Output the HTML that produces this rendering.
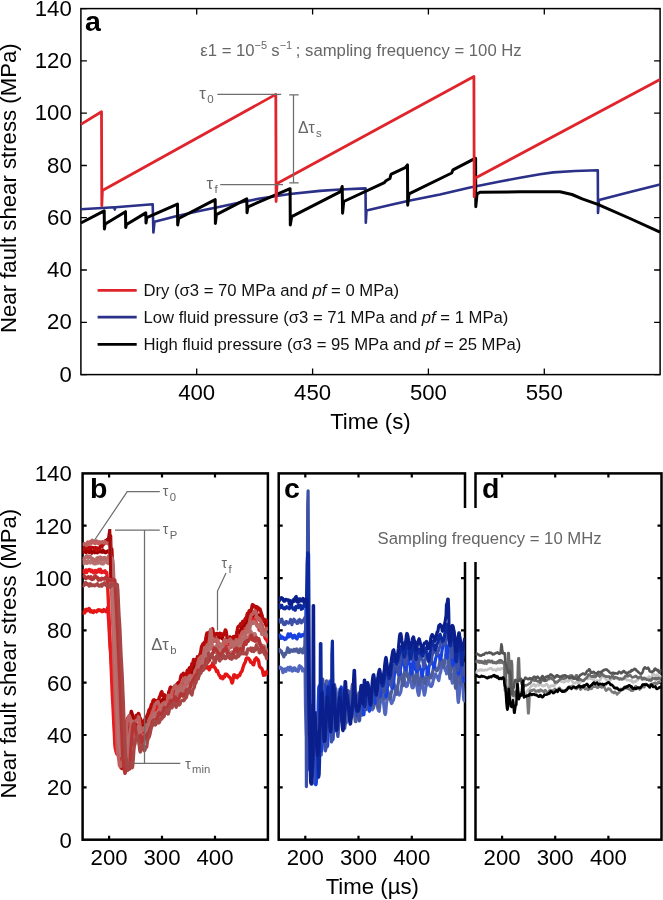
<!DOCTYPE html>
<html><head><meta charset="utf-8"><style>
html,body{margin:0;padding:0;background:#fff;width:663px;height:900px;overflow:hidden}
svg{display:block;will-change:transform}
</style></head><body>
<svg width="663" height="900" viewBox="0 0 663 900">
<rect x="80.9" y="8.6" width="579.2" height="366.0" fill="none" stroke="#000" stroke-width="1.5"/>
<path d="M80.9 374.6h6M660.1 374.6h-6M80.9 322.3h6M660.1 322.3h-6M80.9 270.0h6M660.1 270.0h-6M80.9 217.7h6M660.1 217.7h-6M80.9 165.5h6M660.1 165.5h-6M80.9 113.2h6M660.1 113.2h-6M80.9 60.9h6M660.1 60.9h-6M80.9 8.6h6M660.1 8.6h-6M196.7 374.6v-6M196.7 8.6v6M312.6 374.6v-6M312.6 8.6v6M428.4 374.6v-6M428.4 8.6v6M544.3 374.6v-6M544.3 8.6v6" stroke="#000" stroke-width="1.3" fill="none"/>
<g font-family="Liberation Sans, sans-serif" font-size="22.2" fill="#000"><text x="71.8" y="381.6" text-anchor="end">0</text><text x="71.8" y="329.3" text-anchor="end">20</text><text x="71.8" y="277.0" text-anchor="end">40</text><text x="71.8" y="224.7" text-anchor="end">60</text><text x="71.8" y="172.5" text-anchor="end">80</text><text x="71.8" y="120.2" text-anchor="end">100</text><text x="71.8" y="67.9" text-anchor="end">120</text><text x="71.8" y="15.6" text-anchor="end">140</text><text x="196.7" y="400.3" text-anchor="middle">400</text><text x="312.6" y="400.3" text-anchor="middle">450</text><text x="428.4" y="400.3" text-anchor="middle">500</text><text x="544.3" y="400.3" text-anchor="middle">550</text></g>
<text font-family="Liberation Sans, sans-serif" font-size="22.2" x="370.4" y="429" text-anchor="middle">Time (s)</text>
<text font-family="Liberation Sans, sans-serif" font-size="22.2" transform="translate(16.3,188.2) rotate(-90)" text-anchor="middle">Near fault shear stress (MPa)</text>
<text font-family="Liberation Sans, sans-serif" font-size="28.5" font-weight="bold" x="85" y="30.6">a</text>
<g fill="none" stroke-linejoin="round">
<polyline points="80.9,209.3 114.3,207.2 114.8,209.6 115.3,207.2 152.7,204.3 153.4,232.5 154.5,221.8 175.0,216.5 198.0,211.3 220.0,206.8 240.0,202.5 260.0,198.5 290.0,194.0 320.0,190.9 340.0,189.5 365.5,188.4 365.8,222.7 366.5,210.5 390.0,205.0 410.0,200.5 440.0,194.5 470.0,187.5 500.0,181.5 520.0,177.8 540.0,174.3 553.3,172.4 575.0,171.0 597.8,170.3 598.0,212.9 599.0,200.0 630.0,192.0 660.0,184.4" stroke="#2b3088" stroke-width="2.6"/>
<polyline points="80.9,223.0 104.2,210.8 104.4,228.9 105.2,224.0 125.5,211.7 125.7,227.6 126.5,224.5 145.8,212.9 146.0,223.0 146.8,217.7 177.5,204.1 177.7,225.0 178.7,218.5 215.2,199.6 215.4,223.4 216.4,214.7 246.8,198.9 247.0,212.8 248.0,206.8 290.1,188.7 290.3,224.9 291.7,216.6 340.5,191.6 342.2,186.5 342.6,213.2 343.7,201.5 384.4,182.6 386.0,180.8 389.9,178.5 391.0,174.4 393.0,173.3 405.2,167.6 407.5,164.9 407.7,205.2 409.0,193.9 451.7,173.0 453.0,169.8 475.6,158.2 475.8,206.7 477.0,194.0 480.0,192.2 520.0,191.8 560.0,191.8 572.0,194.5 582.2,198.9 597.8,204.4 630.0,218.5 660.0,232.2" stroke="#000" stroke-width="3"/>
<polyline points="80.9,124.4 101.5,111.7 101.8,205.8 102.4,190.5 275.8,94.4 276.1,201.5 277.1,183.4 473.9,76.5 474.2,196.8 475.0,178.2 660.0,79.6" stroke="#e0242c" stroke-width="2.8"/>
</g>
<g stroke="#6e6e6e" stroke-width="1.25" fill="none"><path d="M217.4 94.4H281.2M220.2 184.5H283M293.5 94.8V182.8M289.2 94.8H298.7M289.2 182.8H298.7"/></g>
<g font-family="Liberation Sans, sans-serif" fill="#666" font-size="16.7">
<text x="199.3" y="98.5">τ<tspan font-size="11.5" dx="1.3" dy="4">0</tspan></text>
<text x="206.5" y="188.5">τ<tspan font-size="11.5" dx="1.3" dy="4">f</tspan></text>
<text x="298" y="133" font-size="15.8">Δτ<tspan font-size="11.3" dx="1.3" dy="4">s</tspan></text>
<text x="200.3" y="56">ε1 = 10<tspan font-size="11" dy="-7">−5</tspan><tspan dy="7" dx="-0.5"> s</tspan><tspan font-size="11" dy="-7">−1</tspan><tspan dy="7" dx="-1"> ; sampling frequency = 100 Hz</tspan></text>
</g>
<g stroke-width="2.8"><path d="M97.6 290.4H136.7" stroke="#e0242c"/><path d="M97.6 317.2H136.7" stroke="#2b3088"/><path d="M97.6 344.3H136.7" stroke="#000"/></g>
<g font-family="Liberation Sans, sans-serif" font-size="16.66" fill="#111">
<text x="143.5" y="296">Dry (σ3 = 70 MPa and <tspan font-style="italic">pf</tspan> = 0 MPa)</text>
<text x="143.5" y="323">Low fluid pressure (σ3 = 71 MPa and <tspan font-style="italic">pf</tspan> = 1 MPa)</text>
<text x="143.5" y="350">High fluid pressure (σ3 = 95 MPa and <tspan font-style="italic">pf</tspan> = 25 MPa)</text>
</g>
<rect x="82.6" y="473.4" width="185.3" height="366.3" fill="none" stroke="#000" stroke-width="2.5"/>
<path d="M82.6 787.4h4M267.9 787.4h-4M82.6 735.0h4M267.9 735.0h-4M82.6 682.7h4M267.9 682.7h-4M82.6 630.4h4M267.9 630.4h-4M82.6 578.1h4M267.9 578.1h-4M82.6 525.7h4M267.9 525.7h-4M109.1 839.7v-4M109.1 473.4v4M162.0 839.7v-4M162.0 473.4v4M215.0 839.7v-4M215.0 473.4v4" stroke="#000" stroke-width="2.2" fill="none"/>
<g font-family="Liberation Sans, sans-serif" font-size="22.2"><text x="109.1" y="865.3" text-anchor="middle">200</text><text x="162.0" y="865.3" text-anchor="middle">300</text><text x="215.0" y="865.3" text-anchor="middle">400</text></g>
<rect x="278.7" y="473.4" width="186.3" height="366.3" fill="none" stroke="#000" stroke-width="2.5"/>
<path d="M278.7 787.4h4M465.0 787.4h-4M278.7 735.0h4M465.0 735.0h-4M278.7 682.7h4M465.0 682.7h-4M278.7 630.4h4M465.0 630.4h-4M278.7 578.1h4M465.0 578.1h-4M278.7 525.7h4M465.0 525.7h-4M305.3 839.7v-4M305.3 473.4v4M358.5 839.7v-4M358.5 473.4v4M411.8 839.7v-4M411.8 473.4v4" stroke="#000" stroke-width="2.2" fill="none"/>
<g font-family="Liberation Sans, sans-serif" font-size="22.2"><text x="305.3" y="865.3" text-anchor="middle">200</text><text x="358.5" y="865.3" text-anchor="middle">300</text><text x="411.8" y="865.3" text-anchor="middle">400</text></g>
<rect x="475.5" y="473.4" width="186.0" height="366.3" fill="none" stroke="#000" stroke-width="2.5"/>
<path d="M475.5 787.4h4M661.5 787.4h-4M475.5 735.0h4M661.5 735.0h-4M475.5 682.7h4M661.5 682.7h-4M475.5 630.4h4M661.5 630.4h-4M475.5 578.1h4M661.5 578.1h-4M475.5 525.7h4M661.5 525.7h-4M502.1 839.7v-4M502.1 473.4v4M555.2 839.7v-4M555.2 473.4v4M608.4 839.7v-4M608.4 473.4v4" stroke="#000" stroke-width="2.2" fill="none"/>
<g font-family="Liberation Sans, sans-serif" font-size="22.2"><text x="502.1" y="865.3" text-anchor="middle">200</text><text x="555.2" y="865.3" text-anchor="middle">300</text><text x="608.4" y="865.3" text-anchor="middle">400</text></g>
<g font-family="Liberation Sans, sans-serif" font-size="22.2"><text x="71.8" y="847.5" text-anchor="end">0</text><text x="71.8" y="795.2" text-anchor="end">20</text><text x="71.8" y="742.8" text-anchor="end">40</text><text x="71.8" y="690.5" text-anchor="end">60</text><text x="71.8" y="638.2" text-anchor="end">80</text><text x="71.8" y="585.9" text-anchor="end">100</text><text x="71.8" y="533.5" text-anchor="end">120</text><text x="71.8" y="481.2" text-anchor="end">140</text></g>
<text font-family="Liberation Sans, sans-serif" font-size="22.2" transform="translate(16.3,653.7) rotate(-90)" text-anchor="middle">Near fault shear stress (MPa)</text>
<text font-family="Liberation Sans, sans-serif" font-size="22.2" x="372.3" y="893.8" text-anchor="middle">Time (µs)</text>
<g font-family="Liberation Sans, sans-serif" font-size="28.5" font-weight="bold"><text x="90" y="498">b</text><text x="284" y="498">c</text><text x="482" y="498">d</text></g>
<clipPath id="clipb"><rect x="82.6" y="473.4" width="185.3" height="366.3"/></clipPath>
<clipPath id="clipc"><rect x="278.7" y="473.4" width="186.3" height="366.3"/></clipPath>
<clipPath id="clipd"><rect x="475.5" y="473.4" width="186.0" height="366.3"/></clipPath>
<g fill="none" stroke-width="3.4" stroke-linejoin="round" clip-path="url(#clipb)">
<polyline points="82.6,610.7 83.0,611.9 83.4,613.0 83.9,612.1 84.3,612.6 84.7,612.9 85.1,611.2 85.6,609.5 86.0,610.6 86.4,610.9 86.8,609.5 87.3,610.1 87.7,610.5 88.1,610.6 88.5,610.2 89.0,608.6 89.4,608.9 89.8,609.6 90.2,610.7 90.6,611.8 91.1,610.9 91.5,610.8 91.9,611.7 92.3,612.1 92.8,611.4 93.2,611.2 93.6,612.4 94.0,611.4 94.5,610.8 94.9,611.2 95.3,611.2 95.7,611.4 96.2,611.5 96.6,611.9 97.0,610.7 97.4,610.2 97.8,610.0 98.3,610.3 98.7,610.5 99.1,609.7 99.5,610.5 100.0,610.3 100.4,610.2 100.8,610.2 101.2,610.4 101.7,611.6 102.1,610.9 102.5,610.6 102.9,611.5 103.4,610.0 103.8,609.5 104.2,610.1 104.6,610.8 105.0,610.5 105.5,610.4 105.9,611.6 106.3,610.2 106.7,609.6 107.2,609.5 107.6,607.8 108.0,609.5 108.4,616.9 108.9,624.2 109.3,632.2 109.7,640.5 110.1,646.4 110.6,651.6 111.0,656.6 111.4,662.2 111.8,667.5 112.2,671.8 112.7,676.4 113.1,683.9 113.5,692.9 113.9,702.8 114.4,711.2 114.8,719.6 115.2,727.1 115.6,734.3 116.1,741.6 116.5,744.6 116.9,746.3 117.3,748.2 117.8,751.9 118.2,754.8 118.6,755.3 119.0,755.2 119.4,753.2 119.9,752.1 120.3,751.5 120.7,750.4 121.1,751.6 121.6,753.0 122.0,754.6 122.4,756.1 122.8,757.6 123.3,752.7 123.7,747.7 124.1,743.9 124.5,739.2 125.0,733.6 125.4,728.0 125.8,725.8 126.2,724.4 126.6,721.2 127.1,719.5 127.5,718.3 127.9,719.0 128.3,720.8 128.8,724.2 129.2,727.9 129.6,730.3 130.0,732.6 130.5,731.8 130.9,730.6 131.3,730.9 131.7,730.9 132.2,731.4 132.6,730.6 133.0,728.9 133.4,727.8 133.8,723.9 134.3,722.4 134.7,722.0 135.1,723.9 135.5,726.6 136.0,725.4 136.4,724.3 136.8,726.5 137.2,727.8 137.7,727.3 138.1,727.1 138.5,726.6 138.9,727.0 139.4,727.9 139.8,729.3 140.2,730.6 140.6,733.3 141.0,736.8 141.5,736.8 141.9,736.1 142.3,734.0 142.7,732.4 143.2,731.8 143.6,731.8 144.0,730.5 144.4,730.5 144.9,732.1 145.3,731.6 145.7,729.4 146.1,727.3 146.6,724.8 147.0,723.1 147.4,721.9 147.8,722.1 148.2,722.7 148.7,722.5 149.1,722.0 149.5,721.0 149.9,719.2 150.4,718.0 150.8,716.1 151.2,714.2 151.6,712.7 152.1,710.4 152.5,711.1 152.9,713.3 153.3,712.2 153.8,709.5 154.2,710.2 154.6,711.8 155.0,710.8 155.4,709.9 155.9,708.4 156.3,707.0 156.7,707.3 157.1,706.4 157.6,703.3 158.0,702.7 158.4,703.7 158.8,703.5 159.3,702.7 159.7,702.8 160.1,703.1 160.5,702.0 161.0,700.7 161.4,701.4 161.8,702.0 162.2,701.0 162.6,700.4 163.1,700.4 163.5,700.3 163.9,699.7 164.3,699.8 164.8,700.8 165.2,701.1 165.6,701.3 166.0,700.9 166.5,699.7 166.9,698.5 167.3,696.8 167.7,696.8 168.2,696.6 168.6,696.1 169.0,696.3 169.4,696.2 169.8,696.7 170.3,697.8 170.7,697.3 171.1,695.5 171.5,693.3 172.0,691.0 172.4,689.6 172.8,689.5 173.2,691.0 173.7,693.3 174.1,695.0 174.5,696.1 174.9,694.1 175.4,691.9 175.8,691.4 176.2,689.9 176.6,687.7 177.1,687.7 177.5,689.9 177.9,689.9 178.3,688.6 178.7,687.7 179.2,686.1 179.6,687.4 180.0,689.1 180.4,686.5 180.9,684.2 181.3,685.4 181.7,686.0 182.1,685.3 182.6,684.9 183.0,684.4 183.4,684.0 183.8,684.0 184.3,684.3 184.7,685.0 185.1,683.8 185.5,681.4 185.9,681.8 186.4,682.4 186.8,682.3 187.2,682.1 187.6,681.3 188.1,679.9 188.5,675.8 188.9,673.6 189.3,674.7 189.8,677.4 190.2,676.3 190.6,675.1 191.0,673.5 191.5,672.8 191.9,672.6 192.3,672.8 192.7,673.3 193.1,672.5 193.6,671.7 194.0,671.5 194.4,671.5 194.8,672.7 195.3,672.9 195.7,671.0 196.1,670.1 196.5,668.9 197.0,667.3 197.4,665.6 197.8,664.4 198.2,664.1 198.7,665.8 199.1,668.3 199.5,669.6 199.9,670.3 200.3,668.0 200.8,666.5 201.2,667.8 201.6,667.7 202.0,665.0 202.5,664.0 202.9,663.2 203.3,662.4 203.7,661.8 204.2,661.4 204.6,661.8 205.0,663.7 205.4,666.4 205.9,665.7 206.3,665.3 206.7,667.0 207.1,668.0 207.5,667.1 208.0,666.9 208.4,667.0 208.8,667.8 209.2,669.9 209.7,669.0 210.1,667.0 210.5,666.2 210.9,666.4 211.4,666.6 211.8,666.6 212.2,664.6 212.6,663.1 213.1,664.0 213.5,665.1 213.9,666.3 214.3,667.2 214.7,667.4 215.2,667.9 215.6,668.8 216.0,669.7 216.4,671.5 216.9,671.2 217.3,670.4 217.7,671.3 218.1,672.5 218.6,674.0 219.0,675.1 219.4,675.4 219.8,675.6 220.3,677.3 220.7,677.9 221.1,677.1 221.5,677.1 221.9,677.0 222.4,677.5 222.8,678.7 223.2,678.1 223.6,676.5 224.1,676.7 224.5,676.9 224.9,675.3 225.3,674.2 225.8,674.5 226.2,675.1 226.6,674.3 227.0,674.5 227.5,675.2 227.9,675.6 228.3,676.2 228.7,676.5 229.1,676.9 229.6,677.2 230.0,677.8 230.4,678.2 230.8,678.8 231.3,680.6 231.7,682.1 232.1,682.9 232.5,682.4 233.0,680.2 233.4,677.8 233.8,674.9 234.2,674.8 234.7,677.3 235.1,677.1 235.5,675.5 235.9,675.8 236.3,676.7 236.8,677.0 237.2,677.7 237.6,676.6 238.0,675.5 238.5,675.3 238.9,675.0 239.3,675.8 239.7,675.6 240.2,673.9 240.6,672.8 241.0,672.2 241.4,671.7 241.9,671.3 242.3,670.1 242.7,668.5 243.1,667.2 243.5,665.9 244.0,664.8 244.4,663.6 244.8,663.0 245.2,662.3 245.7,660.4 246.1,659.2 246.5,658.2 246.9,658.0 247.4,658.2 247.8,658.0 248.2,658.6 248.6,658.5 249.1,659.3 249.5,659.6 249.9,660.1 250.3,661.4 250.7,662.4 251.2,662.4 251.6,662.4 252.0,662.7 252.4,662.9 252.9,664.4 253.3,664.7 253.7,664.8 254.1,663.1 254.6,660.3 255.0,659.3 255.4,659.1 255.8,658.4 256.3,657.9 256.7,658.9 257.1,659.9 257.5,659.2 257.9,659.4 258.4,660.4 258.8,661.8 259.2,664.9 259.6,666.4 260.1,667.2 260.5,667.7 260.9,667.6 261.3,668.1 261.8,668.5 262.2,669.6 262.6,670.7 263.0,673.4 263.5,675.3 263.9,673.4 264.3,672.4 264.7,674.5 265.1,674.9 265.6,672.5 266.0,672.3 266.4,673.9 266.8,673.0 267.3,671.0 267.7,670.4" stroke="#e51515"/>
<polyline points="82.6,570.9 83.0,571.9 83.4,571.0 83.9,570.6 84.3,571.9 84.7,572.5 85.1,571.6 85.6,570.9 86.0,569.9 86.4,571.0 86.8,572.5 87.3,571.0 87.7,570.6 88.1,570.1 88.5,570.4 89.0,570.4 89.4,569.5 89.8,569.9 90.2,570.2 90.6,571.1 91.1,571.7 91.5,570.7 91.9,570.3 92.3,570.9 92.8,571.1 93.2,571.6 93.6,572.8 94.0,572.5 94.5,572.1 94.9,571.9 95.3,570.6 95.7,571.2 96.2,572.5 96.6,572.5 97.0,571.1 97.4,570.5 97.8,570.9 98.3,570.6 98.7,569.6 99.1,570.5 99.5,571.8 100.0,570.3 100.4,569.3 100.8,570.5 101.2,572.0 101.7,572.6 102.1,572.6 102.5,571.7 102.9,571.5 103.4,571.6 103.8,572.1 104.2,572.2 104.6,571.1 105.0,570.8 105.5,572.2 105.9,573.1 106.3,572.8 106.7,572.5 107.2,577.2 107.6,584.9 108.0,593.5 108.4,602.1 108.9,612.3 109.3,622.8 109.7,632.5 110.1,642.2 110.6,652.7 111.0,663.1 111.4,672.6 111.8,682.2 112.2,692.5 112.7,701.7 113.1,709.0 113.5,717.5 113.9,726.1 114.4,734.7 114.8,744.2 115.2,747.7 115.6,749.7 116.1,751.6 116.5,753.2 116.9,754.1 117.3,752.7 117.8,751.8 118.2,751.2 118.6,752.0 119.0,751.8 119.4,749.6 119.9,749.8 120.3,752.5 120.7,753.8 121.1,754.3 121.6,756.6 122.0,756.0 122.4,751.0 122.8,745.9 123.3,740.1 123.7,734.3 124.1,728.8 124.5,724.9 125.0,724.7 125.4,724.3 125.8,723.5 126.2,722.5 126.6,722.6 127.1,723.7 127.5,724.4 127.9,726.0 128.3,728.4 128.8,728.8 129.2,728.8 129.6,728.7 130.0,728.6 130.5,728.4 130.9,728.8 131.3,729.7 131.7,730.3 132.2,729.6 132.6,730.8 133.0,731.9 133.4,730.7 133.8,729.0 134.3,727.4 134.7,726.2 135.1,726.9 135.5,727.9 136.0,727.7 136.4,727.5 136.8,726.9 137.2,726.6 137.7,728.0 138.1,728.2 138.5,726.8 138.9,727.1 139.4,729.0 139.8,731.2 140.2,733.4 140.6,735.8 141.0,738.0 141.5,738.2 141.9,738.1 142.3,737.9 142.7,737.8 143.2,736.4 143.6,735.2 144.0,733.1 144.4,731.8 144.9,730.9 145.3,730.1 145.7,728.9 146.1,727.9 146.6,727.2 147.0,726.4 147.4,726.3 147.8,725.4 148.2,724.7 148.7,724.9 149.1,724.6 149.5,722.2 149.9,720.3 150.4,720.2 150.8,719.3 151.2,716.6 151.6,715.3 152.1,714.5 152.5,712.9 152.9,711.6 153.3,710.0 153.8,708.9 154.2,708.1 154.6,707.5 155.0,708.9 155.4,710.0 155.9,710.8 156.3,711.5 156.7,709.9 157.1,709.9 157.6,711.9 158.0,711.6 158.4,709.1 158.8,708.5 159.3,708.8 159.7,708.3 160.1,708.2 160.5,707.5 161.0,706.9 161.4,709.1 161.8,710.6 162.2,708.2 162.6,706.1 163.1,706.4 163.5,705.3 163.9,702.6 164.3,701.4 164.8,700.1 165.2,699.3 165.6,698.8 166.0,698.9 166.5,699.8 166.9,699.2 167.3,698.7 167.7,700.8 168.2,702.2 168.6,702.4 169.0,702.1 169.4,701.2 169.8,700.5 170.3,700.6 170.7,699.8 171.1,697.0 171.5,695.5 172.0,694.6 172.4,693.3 172.8,692.7 173.2,692.5 173.7,692.5 174.1,694.2 174.5,695.2 174.9,695.6 175.4,694.6 175.8,691.1 176.2,688.9 176.6,689.0 177.1,688.2 177.5,686.3 177.9,686.0 178.3,686.2 178.7,686.3 179.2,686.3 179.6,685.5 180.0,684.5 180.4,685.3 180.9,686.0 181.3,685.2 181.7,685.1 182.1,685.9 182.6,686.3 183.0,686.4 183.4,686.0 183.8,685.2 184.3,683.9 184.7,682.3 185.1,680.3 185.5,678.2 185.9,677.7 186.4,677.4 186.8,678.1 187.2,678.6 187.6,677.8 188.1,677.5 188.5,679.6 188.9,679.9 189.3,678.5 189.8,677.4 190.2,676.1 190.6,675.7 191.0,675.2 191.5,676.2 191.9,677.8 192.3,674.6 192.7,670.5 193.1,668.7 193.6,667.3 194.0,668.9 194.4,669.5 194.8,667.9 195.3,666.7 195.7,664.6 196.1,664.2 196.5,666.0 197.0,666.8 197.4,667.7 197.8,667.2 198.2,665.7 198.7,665.5 199.1,665.7 199.5,665.2 199.9,664.6 200.3,665.3 200.8,665.0 201.2,662.9 201.6,661.6 202.0,661.5 202.5,660.4 202.9,657.1 203.3,655.6 203.7,654.5 204.2,653.2 204.6,652.0 205.0,652.1 205.4,652.2 205.9,650.2 206.3,648.2 206.7,644.9 207.1,642.5 207.5,642.2 208.0,641.3 208.4,639.1 208.8,638.2 209.2,638.6 209.7,639.5 210.1,641.6 210.5,641.7 210.9,641.4 211.4,640.4 211.8,639.2 212.2,640.5 212.6,641.5 213.1,641.2 213.5,640.7 213.9,639.7 214.3,639.3 214.7,640.8 215.2,641.1 215.6,641.0 216.0,640.7 216.4,639.8 216.9,640.8 217.3,642.7 217.7,643.1 218.1,643.5 218.6,644.4 219.0,645.2 219.4,646.4 219.8,647.2 220.3,647.5 220.7,647.2 221.1,645.2 221.5,644.8 221.9,645.2 222.4,645.9 222.8,646.8 223.2,647.1 223.6,647.1 224.1,645.6 224.5,643.8 224.9,644.1 225.3,644.5 225.8,645.3 226.2,646.2 226.6,646.0 227.0,646.3 227.5,646.7 227.9,646.4 228.3,645.9 228.7,645.8 229.1,646.1 229.6,645.6 230.0,645.1 230.4,646.0 230.8,647.4 231.3,646.3 231.7,645.4 232.1,644.9 232.5,644.2 233.0,644.0 233.4,643.0 233.8,641.9 234.2,641.5 234.7,641.6 235.1,642.8 235.5,645.0 235.9,645.6 236.3,645.3 236.8,643.1 237.2,640.2 237.6,639.2 238.0,638.4 238.5,637.2 238.9,636.8 239.3,636.1 239.7,636.1 240.2,637.5 240.6,636.4 241.0,632.2 241.4,630.3 241.9,629.0 242.3,628.7 242.7,629.4 243.1,629.3 243.5,629.2 244.0,630.1 244.4,630.8 244.8,630.4 245.2,630.6 245.7,632.2 246.1,633.0 246.5,632.3 246.9,631.6 247.4,630.5 247.8,628.1 248.2,625.3 248.6,623.1 249.1,621.6 249.5,620.8 249.9,620.2 250.3,621.8 250.7,622.9 251.2,622.1 251.6,621.3 252.0,619.3 252.4,618.6 252.9,617.9 253.3,618.2 253.7,619.5 254.1,619.7 254.6,619.9 255.0,619.7 255.4,619.3 255.8,621.0 256.3,623.4 256.7,624.6 257.1,625.5 257.5,624.7 257.9,625.0 258.4,626.1 258.8,627.5 259.2,629.9 259.6,630.3 260.1,629.0 260.5,629.2 260.9,629.8 261.3,629.8 261.8,629.7 262.2,630.9 262.6,632.3 263.0,633.2 263.5,634.1 263.9,634.3 264.3,635.2 264.7,636.6 265.1,638.0 265.6,638.9 266.0,639.3 266.4,638.9 266.8,639.9 267.3,641.6 267.7,641.2" stroke="#e81a1e"/>
<polyline points="82.6,549.7 83.0,550.9 83.4,552.4 83.9,551.6 84.3,549.7 84.7,550.7 85.1,551.3 85.6,551.4 86.0,552.4 86.4,551.7 86.8,550.2 87.3,549.4 87.7,550.6 88.1,551.2 88.5,552.1 89.0,552.5 89.4,551.4 89.8,550.2 90.2,549.1 90.6,550.7 91.1,551.3 91.5,551.6 91.9,553.2 92.3,552.5 92.8,551.7 93.2,551.7 93.6,551.5 94.0,551.5 94.5,552.0 94.9,552.6 95.3,551.3 95.7,550.8 96.2,550.5 96.6,549.7 97.0,551.5 97.4,552.8 97.8,551.9 98.3,550.7 98.7,550.5 99.1,551.3 99.5,551.7 100.0,550.9 100.4,550.9 100.8,551.7 101.2,551.5 101.7,551.9 102.1,552.2 102.5,550.5 102.9,550.0 103.4,550.7 103.8,551.5 104.2,552.1 104.6,551.8 105.0,552.6 105.5,552.7 105.9,551.8 106.3,552.4 106.7,552.1 107.2,551.3 107.6,551.0 108.0,551.0 108.4,551.2 108.9,551.0 109.3,552.2 109.7,553.1 110.1,552.0 110.6,549.9 111.0,549.7 111.4,550.3 111.8,549.2 112.2,557.8 112.7,565.9 113.1,573.8 113.5,584.1 113.9,597.0 114.4,610.6 114.8,625.0 115.2,638.1 115.6,650.7 116.1,663.6 116.5,676.5 116.9,686.7 117.3,696.9 117.8,707.6 118.2,717.7 118.6,727.2 119.0,736.8 119.4,746.8 119.9,752.9 120.3,754.8 120.7,757.0 121.1,759.0 121.6,761.6 122.0,763.0 122.4,761.7 122.8,760.6 123.3,759.8 123.7,758.9 124.1,758.5 124.5,757.7 125.0,757.0 125.4,757.3 125.8,759.8 126.2,761.5 126.6,759.6 127.1,753.0 127.5,747.6 127.9,740.3 128.3,732.7 128.8,724.8 129.2,716.9 129.6,717.8 130.0,718.1 130.5,715.8 130.9,713.7 131.3,711.4 131.7,712.6 132.2,714.1 132.6,716.3 133.0,719.6 133.4,722.9 133.8,726.6 134.3,727.0 134.7,725.9 135.1,723.7 135.5,721.1 136.0,720.1 136.4,719.2 136.8,718.2 137.2,718.0 137.7,715.3 138.1,714.2 138.5,714.7 138.9,715.8 139.4,719.1 139.8,721.1 140.2,722.4 140.6,724.4 141.0,726.3 141.5,727.1 141.9,727.9 142.3,729.2 142.7,730.0 143.2,728.3 143.6,726.6 144.0,725.3 144.4,724.2 144.9,724.5 145.3,724.2 145.7,724.0 146.1,723.6 146.6,722.6 147.0,722.3 147.4,721.9 147.8,720.3 148.2,718.3 148.7,717.5 149.1,716.7 149.5,714.8 149.9,714.0 150.4,715.0 150.8,715.5 151.2,716.0 151.6,714.9 152.1,711.5 152.5,709.3 152.9,707.1 153.3,705.8 153.8,705.0 154.2,704.3 154.6,704.1 155.0,702.9 155.4,701.8 155.9,701.1 156.3,700.8 156.7,703.2 157.1,703.9 157.6,702.5 158.0,702.5 158.4,703.7 158.8,703.4 159.3,702.2 159.7,702.3 160.1,702.7 160.5,702.5 161.0,702.2 161.4,701.8 161.8,701.2 162.2,700.4 162.6,699.4 163.1,700.1 163.5,699.8 163.9,699.6 164.3,698.5 164.8,695.5 165.2,695.6 165.6,696.5 166.0,696.9 166.5,697.1 166.9,697.4 167.3,697.8 167.7,697.3 168.2,696.6 168.6,693.6 169.0,691.4 169.4,691.5 169.8,690.7 170.3,688.7 170.7,687.7 171.1,687.8 171.5,688.2 172.0,688.6 172.4,688.8 172.8,688.3 173.2,688.5 173.7,688.8 174.1,687.8 174.5,687.0 174.9,686.1 175.4,685.8 175.8,685.1 176.2,685.0 176.6,684.9 177.1,684.5 177.5,683.8 177.9,683.0 178.3,682.6 178.7,682.3 179.2,682.6 179.6,683.3 180.0,684.3 180.4,683.5 180.9,682.9 181.3,683.2 181.7,683.0 182.1,682.9 182.6,682.2 183.0,680.9 183.4,680.0 183.8,678.6 184.3,677.6 184.7,676.6 185.1,676.8 185.5,678.0 185.9,677.3 186.4,676.9 186.8,676.3 187.2,675.4 187.6,674.4 188.1,673.0 188.5,672.6 188.9,671.2 189.3,668.1 189.8,667.5 190.2,669.2 190.6,669.6 191.0,669.2 191.5,670.4 191.9,672.1 192.3,671.5 192.7,670.8 193.1,671.2 193.6,671.2 194.0,668.5 194.4,666.5 194.8,666.1 195.3,665.2 195.7,663.0 196.1,662.5 196.5,663.5 197.0,664.1 197.4,665.0 197.8,664.9 198.2,664.3 198.7,663.0 199.1,661.2 199.5,659.4 199.9,657.7 200.3,656.4 200.8,655.0 201.2,651.9 201.6,649.9 202.0,649.3 202.5,648.0 202.9,647.1 203.3,646.8 203.7,646.3 204.2,646.7 204.6,646.9 205.0,644.6 205.4,641.7 205.9,639.5 206.3,637.9 206.7,637.1 207.1,636.6 207.5,635.7 208.0,635.6 208.4,637.2 208.8,637.3 209.2,637.0 209.7,638.1 210.1,639.9 210.5,639.7 210.9,638.2 211.4,638.6 211.8,638.8 212.2,636.7 212.6,635.2 213.1,636.8 213.5,637.9 213.9,637.8 214.3,638.1 214.7,638.8 215.2,638.8 215.6,638.2 216.0,638.7 216.4,639.3 216.9,639.4 217.3,639.0 217.7,638.9 218.1,638.8 218.6,637.0 219.0,635.7 219.4,633.7 219.8,633.5 220.3,635.7 220.7,637.2 221.1,636.7 221.5,637.2 221.9,638.5 222.4,638.6 222.8,638.3 223.2,638.9 223.6,639.8 224.1,639.9 224.5,639.8 224.9,640.7 225.3,641.3 225.8,640.6 226.2,639.8 226.6,640.5 227.0,640.2 227.5,639.8 227.9,639.6 228.3,639.9 228.7,640.0 229.1,639.8 229.6,638.9 230.0,636.9 230.4,637.3 230.8,638.0 231.3,639.6 231.7,641.0 232.1,641.1 232.5,640.8 233.0,639.3 233.4,638.0 233.8,637.1 234.2,636.7 234.7,636.8 235.1,636.7 235.5,637.1 235.9,636.4 236.3,635.3 236.8,633.7 237.2,632.0 237.6,632.0 238.0,631.9 238.5,631.2 238.9,631.0 239.3,632.5 239.7,633.0 240.2,631.4 240.6,630.7 241.0,630.5 241.4,628.6 241.9,626.3 242.3,623.8 242.7,621.5 243.1,623.1 243.5,625.5 244.0,626.0 244.4,626.1 244.8,626.0 245.2,625.5 245.7,623.1 246.1,621.9 246.5,621.9 246.9,621.4 247.4,621.0 247.8,620.2 248.2,618.8 248.6,618.7 249.1,619.1 249.5,616.9 249.9,614.0 250.3,612.5 250.7,611.4 251.2,612.1 251.6,613.3 252.0,614.4 252.4,615.8 252.9,615.8 253.3,615.6 253.7,615.2 254.1,613.8 254.6,611.7 255.0,611.3 255.4,611.6 255.8,611.7 256.3,612.1 256.7,613.1 257.1,613.9 257.5,615.4 257.9,616.5 258.4,615.9 258.8,616.0 259.2,615.8 259.6,615.8 260.1,616.2 260.5,615.2 260.9,614.0 261.3,614.1 261.8,615.6 262.2,616.8 262.6,618.6 263.0,619.4 263.5,620.1 263.9,620.6 264.3,621.1 264.7,621.6 265.1,622.4 265.6,624.0 266.0,625.0 266.4,625.6 266.8,626.9 267.3,629.0 267.7,629.9" stroke="#a00000"/>
<polyline points="82.6,548.7 83.0,548.4 83.4,549.2 83.9,548.8 84.3,547.7 84.7,547.0 85.1,547.4 85.6,548.3 86.0,547.5 86.4,547.3 86.8,547.0 87.3,547.1 87.7,547.7 88.1,548.3 88.5,548.7 89.0,548.3 89.4,547.2 89.8,547.1 90.2,548.6 90.6,548.5 91.1,547.7 91.5,547.2 91.9,547.5 92.3,547.7 92.8,547.8 93.2,547.8 93.6,547.7 94.0,548.8 94.5,547.9 94.9,547.7 95.3,548.1 95.7,547.6 96.2,549.1 96.6,550.3 97.0,548.8 97.4,548.1 97.8,548.5 98.3,549.1 98.7,549.5 99.1,549.1 99.5,548.3 100.0,547.5 100.4,545.8 100.8,545.5 101.2,546.5 101.7,546.7 102.1,546.7 102.5,544.5 102.9,544.1 103.4,544.6 103.8,543.4 104.2,542.8 104.6,543.6 105.0,542.2 105.5,540.8 105.9,541.4 106.3,541.1 106.7,540.4 107.2,539.6 107.6,540.1 108.0,540.5 108.4,540.3 108.9,539.9 109.3,538.4 109.7,537.6 110.1,537.0 110.6,536.1 111.0,551.7 111.4,560.2 111.8,567.8 112.2,574.0 112.7,582.5 113.1,594.1 113.5,607.3 113.9,622.3 114.4,635.8 114.8,648.6 115.2,661.5 115.6,674.1 116.1,685.7 116.5,697.3 116.9,707.7 117.3,718.0 117.8,728.8 118.2,738.5 118.6,747.0 119.0,753.1 119.4,755.5 119.9,758.3 120.3,762.1 120.7,765.8 121.1,767.8 121.6,768.3 122.0,768.5 122.4,768.3 122.8,768.2 123.3,768.0 123.7,767.9 124.1,769.2 124.5,770.0 125.0,770.8 125.4,771.3 125.8,770.0 126.2,762.3 126.6,756.0 127.1,749.4 127.5,743.0 127.9,735.9 128.3,728.3 128.8,725.6 129.2,723.4 129.6,720.5 130.0,718.2 130.5,718.3 130.9,721.0 131.3,723.1 131.7,725.4 132.2,726.9 132.6,728.6 133.0,730.5 133.4,730.2 133.8,728.8 134.3,726.2 134.7,723.1 135.1,720.5 135.5,717.7 136.0,715.4 136.4,715.4 136.8,715.4 137.2,715.6 137.7,715.4 138.1,715.2 138.5,713.4 138.9,714.0 139.4,716.7 139.8,717.9 140.2,718.0 140.6,719.2 141.0,720.2 141.5,721.6 141.9,723.0 142.3,723.0 142.7,723.0 143.2,723.3 143.6,723.1 144.0,721.4 144.4,720.2 144.9,719.5 145.3,718.5 145.7,717.0 146.1,717.0 146.6,716.9 147.0,716.3 147.4,714.9 147.8,714.1 148.2,713.2 148.7,711.3 149.1,709.7 149.5,709.6 149.9,709.0 150.4,708.3 150.8,707.2 151.2,705.0 151.6,704.2 152.1,704.8 152.5,703.4 152.9,701.0 153.3,700.2 153.8,700.0 154.2,699.8 154.6,700.1 155.0,702.5 155.4,704.4 155.9,704.2 156.3,703.9 156.7,701.7 157.1,701.1 157.6,703.2 158.0,702.9 158.4,700.9 158.8,699.3 159.3,697.5 159.7,696.5 160.1,696.0 160.5,694.6 161.0,693.0 161.4,692.2 161.8,691.6 162.2,692.9 162.6,694.3 163.1,695.8 163.5,696.6 163.9,694.9 164.3,694.7 164.8,696.1 165.2,696.6 165.6,697.2 166.0,697.4 166.5,697.5 166.9,697.8 167.3,698.1 167.7,696.8 168.2,695.6 168.6,695.9 169.0,694.9 169.4,692.3 169.8,689.9 170.3,687.4 170.7,687.1 171.1,688.9 171.5,689.4 172.0,688.9 172.4,690.5 172.8,692.6 173.2,690.6 173.7,688.2 174.1,687.4 174.5,686.8 174.9,686.0 175.4,685.9 175.8,688.5 176.2,689.3 176.6,687.7 177.1,687.0 177.5,686.4 177.9,685.7 178.3,684.8 178.7,684.1 179.2,683.6 179.6,682.7 180.0,681.7 180.4,678.7 180.9,676.1 181.3,675.2 181.7,674.6 182.1,674.7 182.6,674.6 183.0,673.5 183.4,673.3 183.8,674.6 184.3,675.7 184.7,677.4 185.1,676.6 185.5,674.5 185.9,674.7 186.4,675.0 186.8,672.5 187.2,670.5 187.6,670.2 188.1,670.3 188.5,671.5 188.9,671.9 189.3,671.7 189.8,671.2 190.2,670.7 190.6,669.7 191.0,668.4 191.5,666.4 191.9,663.6 192.3,664.0 192.7,664.5 193.1,661.7 193.6,659.5 194.0,660.8 194.4,661.5 194.8,660.7 195.3,660.2 195.7,659.6 196.1,659.4 196.5,659.5 197.0,658.7 197.4,656.8 197.8,657.4 198.2,658.9 198.7,657.8 199.1,656.2 199.5,655.4 199.9,654.5 200.3,653.4 200.8,651.9 201.2,648.6 201.6,646.5 202.0,645.9 202.5,644.8 202.9,643.9 203.3,643.6 203.7,643.1 204.2,643.7 204.6,644.4 205.0,643.0 205.4,641.4 205.9,638.2 206.3,635.6 206.7,633.8 207.1,632.9 207.5,635.5 208.0,636.1 208.4,634.5 208.8,633.5 209.2,632.2 209.7,632.8 210.1,634.0 210.5,634.1 210.9,633.6 211.4,633.5 211.8,633.0 212.2,630.5 212.6,628.8 213.1,631.4 213.5,633.6 213.9,633.6 214.3,634.2 214.7,633.9 215.2,634.0 215.6,635.1 216.0,634.7 216.4,634.0 216.9,633.5 217.3,633.4 217.7,634.0 218.1,634.8 218.6,634.5 219.0,634.1 219.4,633.6 219.8,633.3 220.3,635.1 220.7,635.6 221.1,635.1 221.5,634.8 221.9,633.8 222.4,634.3 222.8,635.1 223.2,635.4 223.6,635.2 224.1,634.5 224.5,633.4 224.9,631.4 225.3,630.0 225.8,630.3 226.2,631.8 226.6,634.5 227.0,637.1 227.5,639.9 227.9,641.2 228.3,642.5 228.7,642.5 229.1,640.9 229.6,641.3 230.0,641.7 230.4,641.2 230.8,640.2 231.3,640.4 231.7,640.6 232.1,638.9 232.5,638.0 233.0,637.2 233.4,636.6 233.8,638.0 234.2,637.8 234.7,637.7 235.1,637.3 235.5,636.6 235.9,636.2 236.3,635.5 236.8,633.3 237.2,630.6 237.6,628.5 238.0,626.9 238.5,626.3 238.9,626.0 239.3,626.2 239.7,626.0 240.2,624.7 240.6,623.8 241.0,623.4 241.4,623.6 241.9,624.9 242.3,624.0 242.7,622.1 243.1,621.7 243.5,621.2 244.0,621.3 244.4,621.4 244.8,619.9 245.2,618.8 245.7,619.0 246.1,618.4 246.5,616.7 246.9,615.5 247.4,613.5 247.8,613.4 248.2,614.8 248.6,613.2 249.1,610.8 249.5,610.5 249.9,610.5 250.3,610.6 250.7,610.5 251.2,610.1 251.6,609.0 252.0,606.2 252.4,604.8 252.9,604.8 253.3,605.0 253.7,606.2 254.1,606.9 254.6,606.9 255.0,607.1 255.4,606.4 255.8,607.5 256.3,609.2 256.7,607.8 257.1,606.8 257.5,609.0 257.9,609.9 258.4,608.5 258.8,608.0 259.2,608.6 259.6,609.3 260.1,609.2 260.5,610.5 260.9,611.9 261.3,613.4 261.8,614.8 262.2,616.8 262.6,619.0 263.0,620.0 263.5,620.7 263.9,619.8 264.3,619.2 264.7,620.1 265.1,620.4 265.6,620.1 266.0,620.2 266.4,620.4 266.8,621.4 267.3,623.5 267.7,623.9" stroke="#b80a0a"/>
<polyline points="82.6,542.7 83.0,543.5 83.4,544.4 83.9,544.2 84.3,543.7 84.7,543.7 85.1,544.2 85.6,544.2 86.0,544.8 86.4,545.5 86.8,544.4 87.3,542.6 87.7,542.1 88.1,543.0 88.5,544.0 89.0,543.9 89.4,542.5 89.8,541.8 90.2,542.4 90.6,542.6 91.1,543.3 91.5,542.9 91.9,540.5 92.3,540.2 92.8,541.8 93.2,542.8 93.6,542.7 94.0,541.7 94.5,542.7 94.9,543.5 95.3,542.6 95.7,541.8 96.2,540.9 96.6,541.0 97.0,542.3 97.4,543.3 97.8,543.1 98.3,543.4 98.7,542.5 99.1,541.7 99.5,542.7 100.0,542.7 100.4,542.1 100.8,542.3 101.2,542.7 101.7,542.5 102.1,541.9 102.5,541.6 102.9,541.8 103.4,542.7 103.8,543.0 104.2,542.9 104.6,542.5 105.0,541.7 105.5,542.3 105.9,543.0 106.3,542.6 106.7,543.0 107.2,542.8 107.6,542.1 108.0,543.2 108.4,543.9 108.9,543.4 109.3,542.2 109.7,540.7 110.1,550.5 110.6,560.5 111.0,570.1 111.4,583.0 111.8,597.3 112.2,610.4 112.7,623.2 113.1,635.2 113.5,648.9 113.9,663.3 114.4,677.5 114.8,687.4 115.2,697.9 115.6,708.7 116.1,717.9 116.5,727.1 116.9,738.5 117.3,749.4 117.8,753.9 118.2,755.5 118.6,758.3 119.0,761.2 119.4,765.2 119.9,766.5 120.3,766.5 120.7,765.5 121.1,763.8 121.6,762.9 122.0,761.8 122.4,761.7 122.8,763.2 123.3,764.6 123.7,766.1 124.1,767.3 124.5,767.1 125.0,759.6 125.4,753.1 125.8,748.2 126.2,740.6 126.6,730.3 127.1,721.9 127.5,720.8 127.9,718.6 128.3,717.1 128.8,716.2 129.2,715.5 129.6,716.3 130.0,717.4 130.5,719.7 130.9,722.2 131.3,726.0 131.7,728.9 132.2,729.6 132.6,728.6 133.0,726.1 133.4,724.2 133.8,722.2 134.3,722.0 134.7,723.1 135.1,722.4 135.5,721.4 136.0,720.8 136.4,720.3 136.8,721.0 137.2,720.7 137.7,719.5 138.1,718.3 138.5,716.8 138.9,717.6 139.4,721.5 139.8,724.4 140.2,726.9 140.6,728.6 141.0,729.0 141.5,730.0 141.9,730.9 142.3,729.4 142.7,728.3 143.2,728.3 143.6,728.8 144.0,727.8 144.4,728.1 144.9,730.3 145.3,730.0 145.7,728.0 146.1,726.6 146.6,724.8 147.0,724.3 147.4,724.5 147.8,723.8 148.2,723.1 148.7,721.3 149.1,719.6 149.5,718.9 149.9,718.1 150.4,717.0 150.8,716.1 151.2,715.4 151.6,714.3 152.1,712.8 152.5,711.8 152.9,710.8 153.3,709.8 153.8,708.6 154.2,707.0 154.6,705.6 155.0,704.7 155.4,704.0 155.9,703.5 156.3,702.9 156.7,703.2 157.1,702.9 157.6,701.7 158.0,701.7 158.4,702.6 158.8,704.0 159.3,706.1 159.7,706.3 160.1,705.5 160.5,706.1 161.0,706.6 161.4,705.6 161.8,704.7 162.2,704.2 162.6,703.5 163.1,704.2 163.5,703.8 163.9,702.6 164.3,702.2 164.8,702.5 165.2,703.4 165.6,704.6 166.0,705.3 166.5,705.7 166.9,704.5 167.3,702.7 167.7,698.7 168.2,695.4 168.6,695.3 169.0,695.9 169.4,697.5 169.8,698.4 170.3,697.8 170.7,696.9 171.1,696.7 171.5,694.9 172.0,692.3 172.4,690.9 172.8,689.7 173.2,689.2 173.7,688.4 174.1,687.9 174.5,687.5 174.9,685.7 175.4,685.2 175.8,686.0 176.2,687.1 176.6,690.0 177.1,689.9 177.5,688.3 177.9,687.5 178.3,686.8 178.7,686.6 179.2,686.8 179.6,686.1 180.0,685.4 180.4,686.6 180.9,687.5 181.3,685.6 181.7,683.5 182.1,681.5 182.6,680.0 183.0,681.1 183.4,680.6 183.8,678.5 184.3,678.4 184.7,679.5 185.1,678.8 185.5,677.6 185.9,678.1 186.4,679.1 186.8,679.5 187.2,679.5 187.6,679.7 188.1,679.1 188.5,679.2 188.9,678.1 189.3,675.9 189.8,675.5 190.2,677.3 190.6,677.2 191.0,675.8 191.5,676.1 191.9,676.6 192.3,676.6 192.7,676.7 193.1,676.5 193.6,676.2 194.0,675.6 194.4,674.5 194.8,671.6 195.3,670.0 195.7,670.8 196.1,670.1 196.5,668.0 197.0,666.1 197.4,664.3 197.8,662.8 198.2,662.0 198.7,660.3 199.1,658.6 199.5,658.3 199.9,658.1 200.3,657.3 200.8,656.9 201.2,656.1 201.6,656.1 202.0,657.3 202.5,657.4 202.9,657.8 203.3,656.7 203.7,655.1 204.2,653.4 204.6,651.6 205.0,650.9 205.4,650.5 205.9,650.1 206.3,649.5 206.7,649.9 207.1,649.6 207.5,649.7 208.0,649.2 208.4,647.5 208.8,646.6 209.2,645.5 209.7,646.1 210.1,647.7 210.5,646.5 210.9,644.1 211.4,642.8 211.8,641.0 212.2,639.8 212.6,638.9 213.1,638.5 213.5,638.6 213.9,640.0 214.3,640.8 214.7,641.2 215.2,641.4 215.6,641.4 216.0,640.7 216.4,639.0 216.9,639.0 217.3,639.5 217.7,640.1 218.1,640.9 218.6,643.2 219.0,644.9 219.4,644.4 219.8,644.2 220.3,646.0 220.7,646.5 221.1,647.0 221.5,646.9 221.9,646.5 222.4,645.5 222.8,644.0 223.2,642.8 223.6,641.7 224.1,640.7 224.5,639.8 224.9,641.7 225.3,643.2 225.8,643.4 226.2,643.1 226.6,641.3 227.0,640.5 227.5,641.3 227.9,641.4 228.3,640.7 228.7,640.8 229.1,641.7 229.6,640.6 230.0,638.9 230.4,639.6 230.8,640.8 231.3,642.5 231.7,643.9 232.1,643.9 232.5,644.1 233.0,646.1 233.4,646.8 233.8,647.6 234.2,647.7 234.7,647.2 235.1,646.7 235.5,645.2 235.9,645.6 236.3,646.3 236.8,645.7 237.2,644.9 237.6,643.4 238.0,642.2 238.5,641.4 238.9,641.0 239.3,640.1 239.7,639.5 240.2,637.6 240.6,636.5 241.0,635.4 241.4,634.1 241.9,633.1 242.3,632.1 242.7,631.6 243.1,632.5 243.5,634.0 244.0,632.8 244.4,631.7 244.8,632.6 245.2,632.5 245.7,630.4 246.1,629.1 246.5,629.6 246.9,628.6 247.4,625.6 247.8,625.6 248.2,627.3 248.6,626.0 249.1,623.7 249.5,621.9 249.9,619.8 250.3,618.0 250.7,616.4 251.2,615.3 251.6,614.4 252.0,614.6 252.4,614.5 252.9,613.1 253.3,612.6 253.7,611.9 254.1,611.9 254.6,612.6 255.0,611.9 255.4,611.1 255.8,612.0 256.3,613.7 256.7,616.9 257.1,619.5 257.5,618.3 257.9,617.6 258.4,619.3 258.8,619.7 259.2,618.3 259.6,618.9 260.1,620.7 260.5,621.3 260.9,620.8 261.3,622.8 261.8,625.8 262.2,625.4 262.6,624.8 263.0,628.4 263.5,631.3 263.9,631.8 264.3,631.7 264.7,631.4 265.1,631.0 265.6,630.5 266.0,630.4 266.4,628.5 266.8,628.9 267.3,630.0 267.7,630.5" stroke="#c0605e"/>
<polyline points="82.6,561.1 83.0,560.7 83.4,562.3 83.9,563.7 84.3,563.0 84.7,561.7 85.1,560.9 85.6,561.5 86.0,562.1 86.4,563.0 86.8,563.3 87.3,563.1 87.7,562.0 88.1,560.7 88.5,561.5 89.0,562.6 89.4,561.9 89.8,562.0 90.2,562.9 90.6,561.6 91.1,561.0 91.5,561.9 91.9,561.6 92.3,561.3 92.8,561.8 93.2,562.5 93.6,563.5 94.0,563.4 94.5,563.5 94.9,563.9 95.3,562.7 95.7,562.4 96.2,563.3 96.6,563.5 97.0,562.9 97.4,561.5 97.8,561.4 98.3,562.5 98.7,563.0 99.1,561.9 99.5,561.3 100.0,562.3 100.4,562.4 100.8,562.7 101.2,563.5 101.7,563.1 102.1,563.1 102.5,564.0 102.9,563.6 103.4,563.7 103.8,563.1 104.2,562.6 104.6,562.1 105.0,560.8 105.5,561.3 105.9,561.2 106.3,560.9 106.7,562.0 107.2,562.1 107.6,563.0 108.0,563.4 108.4,563.0 108.9,562.4 109.3,561.4 109.7,561.7 110.1,562.8 110.6,563.0 111.0,562.3 111.4,567.1 111.8,575.4 112.2,583.3 112.7,591.6 113.1,602.4 113.5,613.8 113.9,625.8 114.4,635.6 114.8,643.9 115.2,655.2 115.6,667.7 116.1,678.4 116.5,687.9 116.9,698.0 117.3,707.6 117.8,717.3 118.2,726.4 118.6,734.0 119.0,742.3 119.4,746.3 119.9,748.7 120.3,750.5 120.7,752.9 121.1,755.7 121.6,755.9 122.0,755.9 122.4,755.0 122.8,754.3 123.3,753.2 123.7,752.2 124.1,753.3 124.5,755.0 125.0,755.8 125.4,757.2 125.8,760.7 126.2,759.8 126.6,754.7 127.1,751.5 127.5,749.2 127.9,745.9 128.3,742.3 128.8,738.7 129.2,737.0 129.6,735.9 130.0,734.8 130.5,733.9 130.9,733.5 131.3,734.9 131.7,736.5 132.2,738.3 132.6,740.3 133.0,742.8 133.4,745.1 133.8,743.7 134.3,744.2 134.7,745.0 135.1,743.8 135.5,742.3 136.0,741.3 136.4,740.4 136.8,736.4 137.2,736.1 137.7,737.7 138.1,738.7 138.5,738.1 138.9,738.5 139.4,740.4 139.8,741.6 140.2,742.8 140.6,743.6 141.0,744.2 141.5,746.4 141.9,748.7 142.3,746.1 142.7,744.0 143.2,744.1 143.6,743.2 144.0,742.0 144.4,740.3 144.9,738.5 145.3,737.4 145.7,736.1 146.1,736.5 146.6,737.9 147.0,737.8 147.4,737.2 147.8,736.3 148.2,735.3 148.7,733.5 149.1,731.9 149.5,729.9 149.9,728.1 150.4,727.1 150.8,726.0 151.2,725.8 151.6,724.7 152.1,722.2 152.5,722.4 152.9,724.3 153.3,723.5 153.8,722.1 154.2,720.7 154.6,719.7 155.0,719.3 155.4,718.9 155.9,719.8 156.3,720.0 156.7,720.7 157.1,720.3 157.6,717.9 158.0,716.8 158.4,716.2 158.8,715.5 159.3,715.5 159.7,714.0 160.1,712.2 160.5,710.4 161.0,708.5 161.4,709.9 161.8,711.0 162.2,710.3 162.6,710.0 163.1,710.2 163.5,710.2 163.9,708.6 164.3,708.9 164.8,711.2 165.2,712.1 165.6,712.1 166.0,712.7 166.5,712.8 166.9,713.0 167.3,712.8 167.7,709.9 168.2,707.5 168.6,707.5 169.0,707.3 169.4,704.8 169.8,703.7 170.3,703.9 170.7,703.3 171.1,702.6 171.5,701.1 172.0,698.9 172.4,698.1 172.8,697.7 173.2,699.0 173.7,700.7 174.1,700.7 174.5,700.6 174.9,700.1 175.4,700.4 175.8,701.4 176.2,702.3 176.6,702.5 177.1,702.2 177.5,701.7 177.9,700.3 178.3,697.9 178.7,697.4 179.2,697.5 179.6,696.2 180.0,694.6 180.4,694.4 180.9,694.2 181.3,694.6 181.7,695.0 182.1,694.2 182.6,694.2 183.0,695.4 183.4,694.9 183.8,692.5 184.3,691.4 184.7,691.3 185.1,689.3 185.5,686.9 185.9,688.3 186.4,690.1 186.8,689.2 187.2,688.3 187.6,689.8 188.1,690.4 188.5,689.9 188.9,689.1 189.3,688.4 189.8,687.3 190.2,684.8 190.6,683.5 191.0,682.5 191.5,681.8 191.9,681.6 192.3,682.2 192.7,683.2 193.1,684.8 193.6,685.7 194.0,684.9 194.4,684.1 194.8,684.0 195.3,683.0 195.7,679.5 196.1,678.6 196.5,680.0 197.0,678.4 197.4,675.5 197.8,675.4 198.2,676.6 198.7,676.0 199.1,675.6 199.5,674.7 199.9,673.5 200.3,673.4 200.8,672.5 201.2,671.1 201.6,669.2 202.0,665.0 202.5,663.4 202.9,663.9 203.3,663.2 203.7,662.9 204.2,660.8 204.6,657.9 205.0,655.5 205.4,652.5 205.9,651.3 206.3,650.4 206.7,650.8 207.1,651.2 207.5,650.4 208.0,650.1 208.4,649.6 208.8,649.4 209.2,649.9 209.7,649.2 210.1,648.0 210.5,646.9 210.9,645.9 211.4,646.3 211.8,647.0 212.2,647.0 212.6,647.0 213.1,647.0 213.5,647.4 213.9,649.3 214.3,650.3 214.7,649.3 215.2,649.8 215.6,652.4 216.0,652.4 216.4,651.4 216.9,651.3 217.3,651.0 217.7,650.1 218.1,648.8 218.6,649.0 219.0,649.5 219.4,649.7 219.8,650.2 220.3,649.6 220.7,649.9 221.1,651.4 221.5,652.0 221.9,653.0 222.4,652.5 222.8,651.2 223.2,651.1 223.6,651.4 224.1,650.6 224.5,649.9 224.9,649.7 225.3,649.6 225.8,651.7 226.2,652.4 226.6,651.1 227.0,650.2 227.5,648.4 227.9,648.7 228.3,650.3 228.7,652.2 229.1,654.1 229.6,655.9 230.0,657.4 230.4,655.9 230.8,653.5 231.3,652.6 231.7,652.0 232.1,651.9 232.5,652.0 233.0,652.9 233.4,652.8 233.8,652.0 234.2,651.6 234.7,652.5 235.1,652.1 235.5,651.8 235.9,651.3 236.3,650.9 236.8,650.3 237.2,649.5 237.6,647.7 238.0,646.3 238.5,645.0 238.9,644.9 239.3,646.6 239.7,647.6 240.2,647.3 240.6,646.8 241.0,646.4 241.4,645.7 241.9,644.6 242.3,645.1 242.7,646.4 243.1,645.6 243.5,644.8 244.0,643.5 244.4,642.4 244.8,643.4 245.2,643.4 245.7,641.4 246.1,640.2 246.5,640.2 246.9,640.1 247.4,640.2 247.8,639.3 248.2,638.1 248.6,637.0 249.1,635.8 249.5,635.7 249.9,635.8 250.3,633.2 250.7,631.1 251.2,631.9 251.6,632.8 252.0,633.6 252.4,634.6 252.9,633.9 253.3,634.6 253.7,636.9 254.1,636.1 254.6,633.6 255.0,633.8 255.4,635.3 255.8,637.5 256.3,640.7 256.7,642.2 257.1,643.1 257.5,642.1 257.9,641.2 258.4,643.2 258.8,643.5 259.2,642.4 259.6,642.6 260.1,643.9 260.5,644.7 260.9,644.7 261.3,646.2 261.8,647.7 262.2,646.7 262.6,645.4 263.0,646.8 263.5,647.9 263.9,646.6 264.3,646.0 264.7,648.2 265.1,648.9 265.6,648.5 266.0,648.9 266.4,650.3 266.8,651.4 267.3,652.5 267.7,653.3" stroke="#b87270"/>
<polyline points="82.6,560.4 83.0,559.2 83.4,558.6 83.9,558.8 84.3,559.6 84.7,559.2 85.1,557.5 85.6,557.2 86.0,557.3 86.4,556.1 86.8,555.7 87.3,556.6 87.7,557.6 88.1,557.3 88.5,556.4 89.0,556.9 89.4,557.1 89.8,556.1 90.2,556.2 90.6,558.1 91.1,558.4 91.5,558.2 91.9,558.8 92.3,558.3 92.8,558.7 93.2,559.9 93.6,559.9 94.0,559.5 94.5,560.4 94.9,560.8 95.3,560.9 95.7,561.0 96.2,560.8 96.6,559.6 97.0,557.9 97.4,558.5 97.8,559.9 98.3,558.4 98.7,557.6 99.1,558.2 99.5,558.4 100.0,558.1 100.4,557.1 100.8,557.4 101.2,559.0 101.7,560.2 102.1,559.2 102.5,558.8 102.9,559.3 103.4,557.8 103.8,558.3 104.2,558.6 104.6,557.5 105.0,557.7 105.5,558.2 105.9,559.2 106.3,559.2 106.7,558.4 107.2,557.6 107.6,557.6 108.0,558.3 108.4,556.9 108.9,555.8 109.3,555.8 109.7,556.8 110.1,557.8 110.6,557.2 111.0,556.7 111.4,557.6 111.8,558.0 112.2,558.5 112.7,559.6 113.1,564.5 113.5,572.7 113.9,582.3 114.4,590.3 114.8,601.3 115.2,611.7 115.6,621.6 116.1,634.0 116.5,646.7 116.9,659.0 117.3,671.1 117.8,679.7 118.2,687.6 118.6,695.8 119.0,704.5 119.4,714.4 119.9,724.2 120.3,734.8 120.7,744.2 121.1,745.9 121.6,749.6 122.0,754.0 122.4,757.3 122.8,760.6 123.3,760.6 123.7,760.5 124.1,758.3 124.5,757.0 125.0,757.9 125.4,757.8 125.8,758.9 126.2,760.2 126.6,761.3 127.1,763.0 127.5,764.1 127.9,760.1 128.3,753.6 128.8,748.8 129.2,744.4 129.6,737.9 130.0,731.7 130.5,729.1 130.9,727.6 131.3,724.1 131.7,721.7 132.2,721.0 132.6,721.8 133.0,724.5 133.4,727.8 133.8,730.9 134.3,734.3 134.7,737.3 135.1,739.0 135.5,738.3 136.0,738.2 136.4,738.0 136.8,736.6 137.2,734.8 137.7,731.8 138.1,729.6 138.5,726.0 138.9,726.6 139.4,728.6 139.8,730.8 140.2,733.8 140.6,734.3 141.0,733.9 141.5,735.7 141.9,737.7 142.3,737.8 142.7,737.8 143.2,737.5 143.6,736.9 144.0,736.1 144.4,735.3 144.9,735.4 145.3,734.9 145.7,734.2 146.1,733.7 146.6,733.3 147.0,731.6 147.4,729.3 147.8,728.6 148.2,728.1 148.7,725.7 149.1,723.5 149.5,723.9 149.9,723.7 150.4,722.6 150.8,721.8 151.2,721.4 151.6,720.6 152.1,719.4 152.5,718.5 152.9,716.8 153.3,716.4 153.8,715.6 154.2,714.4 154.6,713.3 155.0,714.4 155.4,715.4 155.9,713.5 156.3,712.7 156.7,713.4 157.1,713.8 157.6,714.5 158.0,713.8 158.4,711.1 158.8,709.8 159.3,709.2 159.7,708.8 160.1,709.4 160.5,707.9 161.0,706.1 161.4,706.4 161.8,706.7 162.2,706.4 162.6,707.2 163.1,708.5 163.5,709.9 163.9,710.8 164.3,710.9 164.8,711.1 165.2,708.8 165.6,705.0 166.0,704.4 166.5,705.4 166.9,704.8 167.3,704.2 167.7,704.6 168.2,704.7 168.6,703.4 169.0,703.0 169.4,704.9 169.8,705.8 170.3,706.0 170.7,705.5 171.1,704.2 171.5,702.5 172.0,699.7 172.4,699.2 172.8,699.3 173.2,699.2 173.7,699.0 174.1,700.3 174.5,701.1 174.9,699.4 175.4,697.4 175.8,694.8 176.2,692.7 176.6,691.3 177.1,690.8 177.5,691.7 177.9,692.7 178.3,694.3 178.7,694.2 179.2,693.1 179.6,691.4 180.0,689.3 180.4,688.7 180.9,688.2 181.3,688.8 181.7,689.4 182.1,690.6 182.6,691.2 183.0,690.5 183.4,689.9 183.8,688.7 184.3,687.0 184.7,685.5 185.1,683.4 185.5,681.5 185.9,681.9 186.4,682.9 186.8,684.2 187.2,685.0 187.6,682.6 188.1,680.2 188.5,678.5 188.9,677.0 189.3,677.5 189.8,677.4 190.2,677.0 190.6,677.6 191.0,677.7 191.5,679.0 191.9,679.9 192.3,679.5 192.7,678.8 193.1,678.5 193.6,678.2 194.0,677.6 194.4,676.6 194.8,673.8 195.3,672.3 195.7,673.5 196.1,673.2 196.5,672.3 197.0,672.5 197.4,673.4 197.8,672.6 198.2,670.8 198.7,669.4 199.1,667.7 199.5,665.9 199.9,664.2 200.3,662.2 200.8,661.3 201.2,663.1 201.6,663.5 202.0,663.0 202.5,661.4 202.9,658.6 203.3,655.8 203.7,653.2 204.2,650.3 204.6,647.7 205.0,648.7 205.4,650.2 205.9,649.6 206.3,648.9 206.7,646.7 207.1,644.9 207.5,645.7 208.0,645.4 208.4,644.5 208.8,644.2 209.2,643.4 209.7,638.8 210.1,634.4 210.5,629.4 210.9,629.6 211.4,634.3 211.8,638.7 212.2,646.3 212.6,649.4 213.1,649.7 213.5,649.8 213.9,647.8 214.3,647.2 214.7,647.5 215.2,647.7 215.6,648.0 216.0,647.2 216.4,645.9 216.9,645.1 217.3,644.7 217.7,644.7 218.1,644.7 218.6,643.9 219.0,643.2 219.4,643.3 219.8,643.9 220.3,644.3 220.7,645.3 221.1,646.9 221.5,647.2 221.9,646.7 222.4,647.5 222.8,649.4 223.2,648.5 223.6,646.3 224.1,648.4 224.5,651.0 224.9,650.2 225.3,649.5 225.8,649.9 226.2,650.2 226.6,651.1 227.0,651.1 227.5,648.4 227.9,647.6 228.3,648.5 228.7,648.3 229.1,648.4 229.6,647.7 230.0,646.9 230.4,646.2 230.8,645.3 231.3,643.5 231.7,642.2 232.1,641.2 232.5,641.6 233.0,643.1 233.4,644.5 233.8,647.3 234.2,647.3 234.7,644.9 235.1,643.3 235.5,642.2 235.9,640.7 236.3,639.8 236.8,641.0 237.2,642.7 237.6,643.3 238.0,643.6 238.5,643.1 238.9,642.7 239.3,640.5 239.7,640.0 240.2,642.3 240.6,642.4 241.0,641.8 241.4,640.6 241.9,638.6 242.3,638.6 242.7,639.3 243.1,639.0 243.5,638.9 244.0,637.2 244.4,635.8 244.8,637.5 245.2,637.7 245.7,634.8 246.1,632.8 246.5,631.5 246.9,631.2 247.4,632.1 247.8,632.2 248.2,632.0 248.6,631.8 249.1,631.4 249.5,629.8 249.9,627.9 250.3,625.8 250.7,624.1 251.2,623.1 251.6,622.5 252.0,622.3 252.4,622.7 252.9,623.4 253.3,623.2 253.7,621.4 254.1,621.4 254.6,622.4 255.0,622.4 255.4,622.7 255.8,623.3 256.3,624.5 256.7,625.1 257.1,625.6 257.5,626.7 257.9,626.8 258.4,625.8 258.8,625.0 259.2,624.6 259.6,625.5 260.1,628.1 260.5,629.5 260.9,630.0 261.3,632.1 261.8,634.4 262.2,634.0 262.6,633.2 263.0,633.4 263.5,633.8 263.9,634.5 264.3,634.7 264.7,635.1 265.1,634.9 265.6,633.1 266.0,633.6 266.4,635.7 266.8,636.4 267.3,636.8 267.7,637.8" stroke="#b86a68"/>
<polyline points="82.6,577.0 83.0,576.7 83.4,576.4 83.9,576.0 84.3,575.9 84.7,577.0 85.1,577.6 85.6,578.4 86.0,578.6 86.4,578.1 86.8,578.0 87.3,577.1 87.7,577.2 88.1,577.6 88.5,576.8 89.0,577.2 89.4,577.8 89.8,577.9 90.2,578.4 90.6,578.1 91.1,576.8 91.5,577.5 91.9,579.6 92.3,579.4 92.8,578.1 93.2,578.4 93.6,578.9 94.0,577.8 94.5,577.0 94.9,576.0 95.3,575.7 95.7,576.6 96.2,577.5 96.6,577.6 97.0,577.8 97.4,577.4 97.8,578.8 98.3,580.2 98.7,580.1 99.1,579.8 99.5,579.3 100.0,578.7 100.4,579.1 100.8,579.9 101.2,579.2 101.7,578.3 102.1,578.8 102.5,579.1 102.9,579.0 103.4,578.8 103.8,578.4 104.2,578.2 104.6,579.1 105.0,578.8 105.5,577.5 105.9,577.5 106.3,577.5 106.7,578.3 107.2,579.0 107.6,579.6 108.0,579.4 108.4,579.7 108.9,581.0 109.3,580.9 109.7,580.7 110.1,580.5 110.6,580.6 111.0,581.0 111.4,580.7 111.8,579.9 112.2,579.2 112.7,579.9 113.1,580.1 113.5,579.3 113.9,580.3 114.4,580.7 114.8,579.9 115.2,583.1 115.6,591.5 116.1,599.7 116.5,607.7 116.9,616.2 117.3,624.9 117.8,634.0 118.2,643.0 118.6,651.8 119.0,660.9 119.4,671.1 119.9,681.3 120.3,692.4 120.7,703.8 121.1,715.1 121.6,725.9 122.0,736.1 122.4,746.7 122.8,757.4 123.3,761.0 123.7,764.4 124.1,767.6 124.5,770.4 125.0,773.4 125.4,772.3 125.8,770.9 126.2,769.8 126.6,769.0 127.1,768.2 127.5,767.1 127.9,768.1 128.3,769.5 128.8,769.3 129.2,768.6 129.6,768.9 130.0,763.6 130.5,755.7 130.9,748.7 131.3,744.2 131.7,738.6 132.2,732.4 132.6,728.3 133.0,725.5 133.4,724.5 133.8,723.8 134.3,723.4 134.7,724.9 135.1,727.2 135.5,729.7 136.0,732.6 136.4,735.4 136.8,737.5 137.2,739.0 137.7,739.3 138.1,739.5 138.5,740.0 138.9,739.7 139.4,737.2 139.8,736.4 140.2,736.0 140.6,735.4 141.0,736.8 141.5,739.6 141.9,742.7 142.3,741.0 142.7,739.4 143.2,740.3 143.6,740.3 144.0,737.6 144.4,736.5 144.9,737.7 145.3,737.2 145.7,735.7 146.1,736.5 146.6,738.3 147.0,737.3 147.4,734.5 147.8,733.6 148.2,732.7 148.7,732.9 149.1,732.9 149.5,730.8 149.9,729.0 150.4,728.0 150.8,727.0 151.2,727.5 151.6,726.5 152.1,723.4 152.5,721.9 152.9,720.6 153.3,720.3 153.8,721.0 154.2,720.0 154.6,719.7 155.0,721.1 155.4,722.1 155.9,722.4 156.3,721.7 156.7,719.2 157.1,717.6 157.6,717.6 158.0,716.9 158.4,714.2 158.8,713.3 159.3,712.8 159.7,712.9 160.1,713.8 160.5,713.6 161.0,713.6 161.4,714.8 161.8,715.6 162.2,714.4 162.6,713.1 163.1,711.3 163.5,709.8 163.9,708.2 164.3,707.5 164.8,707.6 165.2,708.9 165.6,710.9 166.0,711.7 166.5,711.8 166.9,709.9 167.3,707.5 167.7,706.7 168.2,706.1 168.6,704.9 169.0,703.8 169.4,704.1 169.8,703.4 170.3,700.9 170.7,700.4 171.1,702.1 171.5,702.0 172.0,701.2 172.4,701.2 172.8,701.3 173.2,700.5 173.7,699.6 174.1,698.5 174.5,697.8 174.9,696.9 175.4,697.0 175.8,700.3 176.2,701.6 176.6,700.2 177.1,700.0 177.5,700.9 177.9,700.3 178.3,698.3 178.7,698.0 179.2,697.7 179.6,696.6 180.0,695.2 180.4,694.3 180.9,693.6 181.3,694.0 181.7,694.5 182.1,695.7 182.6,696.0 183.0,694.5 183.4,694.1 183.8,694.8 184.3,695.2 184.7,695.7 185.1,695.8 185.5,695.7 185.9,693.2 186.4,690.1 186.8,690.0 187.2,689.9 187.6,690.1 188.1,690.1 188.5,689.6 188.9,689.1 189.3,688.9 189.8,688.3 190.2,687.7 190.6,686.0 191.0,683.0 191.5,682.4 191.9,682.5 192.3,681.9 192.7,681.2 193.1,680.1 193.6,679.2 194.0,678.6 194.4,678.1 194.8,676.9 195.3,676.1 195.7,675.3 196.1,674.9 196.5,675.8 197.0,675.0 197.4,673.4 197.8,672.0 198.2,670.2 198.7,670.2 199.1,670.5 199.5,670.7 199.9,670.8 200.3,670.5 200.8,669.5 201.2,668.3 201.6,667.0 202.0,666.5 202.5,666.1 202.9,666.2 203.3,667.3 203.7,668.6 204.2,668.9 204.6,668.3 205.0,667.0 205.4,665.5 205.9,662.3 206.3,659.5 206.7,658.8 207.1,658.6 207.5,661.3 208.0,662.3 208.4,661.3 208.8,660.8 209.2,660.8 209.7,659.7 210.1,657.9 210.5,656.4 210.9,655.1 211.4,655.1 211.8,655.2 212.2,654.0 212.6,652.9 213.1,652.9 213.5,652.1 213.9,649.7 214.3,648.3 214.7,648.6 215.2,648.8 215.6,648.7 216.0,649.3 216.4,649.8 216.9,650.6 217.3,651.5 217.7,652.1 218.1,652.9 218.6,653.4 219.0,653.8 219.4,655.1 219.8,655.6 220.3,654.4 220.7,654.1 221.1,655.9 221.5,655.7 221.9,653.6 222.4,652.7 222.8,651.8 223.2,651.1 223.6,650.2 224.1,649.7 224.5,649.2 224.9,649.0 225.3,649.0 225.8,648.0 226.2,648.2 226.6,649.5 227.0,650.8 227.5,652.5 227.9,653.1 228.3,653.3 228.7,654.7 229.1,657.2 229.6,658.0 230.0,658.5 230.4,658.2 230.8,657.7 231.3,655.8 231.7,654.3 232.1,656.5 232.5,657.4 233.0,656.2 233.4,654.7 233.8,652.3 234.2,651.2 234.7,649.9 235.1,649.3 235.5,649.7 235.9,648.8 236.3,648.3 236.8,648.1 237.2,648.3 237.6,650.8 238.0,652.9 238.5,653.5 238.9,653.3 239.3,652.0 239.7,650.9 240.2,648.9 240.6,648.7 241.0,650.3 241.4,650.9 241.9,650.7 242.3,651.5 242.7,652.2 243.1,649.5 243.5,646.1 244.0,644.2 244.4,642.6 244.8,641.9 245.2,641.8 245.7,643.8 246.1,644.2 246.5,641.7 246.9,640.7 247.4,640.3 247.8,640.3 248.2,641.4 248.6,640.5 249.1,639.5 249.5,639.3 249.9,639.0 250.3,637.7 250.7,636.6 251.2,635.2 251.6,635.2 252.0,638.1 252.4,640.0 252.9,639.2 253.3,638.8 253.7,638.4 254.1,639.1 254.6,641.1 255.0,640.9 255.4,640.4 255.8,639.0 256.3,637.6 256.7,637.7 257.1,637.9 257.5,639.7 257.9,640.6 258.4,638.9 258.8,638.7 259.2,640.1 259.6,642.0 260.1,645.2 260.5,646.0 260.9,645.1 261.3,646.9 261.8,649.4 262.2,649.7 262.6,649.5 263.0,648.4 263.5,647.7 263.9,650.3 264.3,652.1 264.7,650.8 265.1,651.1 265.6,653.3 266.0,653.9 266.4,653.3 266.8,653.6 267.3,654.6 267.7,654.4" stroke="#b33535"/>
<polyline points="82.6,584.8 83.0,585.5 83.4,586.0 83.9,585.6 84.3,584.8 84.7,584.2 85.1,583.4 85.6,582.4 86.0,583.4 86.4,584.2 86.8,584.2 87.3,584.4 87.7,583.9 88.1,584.8 88.5,585.4 89.0,585.4 89.4,586.0 89.8,584.5 90.2,583.7 90.6,584.6 91.1,584.3 91.5,584.7 91.9,585.5 92.3,585.3 92.8,585.5 93.2,585.4 93.6,585.0 94.0,585.0 94.5,585.3 94.9,585.7 95.3,585.4 95.7,585.0 96.2,584.4 96.6,584.2 97.0,584.4 97.4,583.7 97.8,584.5 98.3,585.6 98.7,585.6 99.1,586.0 99.5,586.0 100.0,585.3 100.4,585.3 100.8,584.9 101.2,585.7 101.7,586.1 102.1,585.0 102.5,584.0 102.9,584.2 103.4,584.9 103.8,584.3 104.2,583.6 104.6,582.8 105.0,584.0 105.5,583.9 105.9,583.8 106.3,585.5 106.7,585.5 107.2,585.1 107.6,585.8 108.0,586.7 108.4,586.7 108.9,585.3 109.3,584.8 109.7,586.5 110.1,587.2 110.6,585.7 111.0,584.5 111.4,584.5 111.8,584.5 112.2,584.3 112.7,584.6 113.1,585.0 113.5,584.8 113.9,585.7 114.4,585.8 114.8,584.9 115.2,585.0 115.6,586.1 116.1,586.4 116.5,585.8 116.9,585.9 117.3,584.6 117.8,590.2 118.2,598.6 118.6,607.5 119.0,615.6 119.4,621.4 119.9,629.4 120.3,639.4 120.7,648.3 121.1,657.1 121.6,665.2 122.0,672.7 122.4,681.0 122.8,690.9 123.3,702.5 123.7,714.0 124.1,724.6 124.5,735.1 125.0,745.1 125.4,754.9 125.8,757.2 126.2,759.4 126.6,763.2 127.1,766.6 127.5,770.4 127.9,769.7 128.3,767.2 128.8,765.7 129.2,764.3 129.6,763.4 130.0,762.7 130.5,763.1 130.9,764.8 131.3,766.0 131.7,767.4 132.2,767.8 132.6,766.3 133.0,762.5 133.4,757.0 133.8,750.4 134.3,745.9 134.7,742.4 135.1,739.0 135.5,738.8 136.0,738.9 136.4,738.7 136.8,736.8 137.2,735.9 137.7,738.7 138.1,740.7 138.5,740.8 138.9,742.9 139.4,746.5 139.8,750.1 140.2,751.9 140.6,751.4 141.0,749.8 141.5,749.0 141.9,748.0 142.3,746.4 142.7,745.3 143.2,746.9 143.6,747.4 144.0,749.6 144.4,750.7 144.9,749.8 145.3,748.9 145.7,747.5 146.1,746.8 146.6,747.0 147.0,744.5 147.4,741.1 147.8,739.8 148.2,738.4 148.7,737.7 149.1,737.0 149.5,735.8 149.9,734.3 150.4,731.8 150.8,729.8 151.2,727.9 151.6,726.7 152.1,725.6 152.5,724.8 152.9,725.0 153.3,723.1 153.8,720.9 154.2,721.0 154.6,722.0 155.0,723.8 155.4,725.0 155.9,723.8 156.3,722.8 156.7,721.9 157.1,721.4 157.6,720.9 158.0,721.3 158.4,722.9 158.8,722.8 159.3,722.5 159.7,721.4 160.1,719.9 160.5,719.2 161.0,718.2 161.4,718.6 161.8,718.9 162.2,717.6 162.6,716.6 163.1,717.2 163.5,716.9 163.9,716.6 164.3,715.6 164.8,713.4 165.2,713.0 165.6,713.5 166.0,712.1 166.5,710.0 166.9,710.2 167.3,710.7 167.7,712.6 168.2,714.0 168.6,712.8 169.0,711.3 169.4,708.6 169.8,707.0 170.3,708.2 170.7,708.0 171.1,707.2 171.5,707.2 172.0,707.7 172.4,706.6 172.8,704.6 173.2,703.7 173.7,702.8 174.1,703.2 174.5,703.7 174.9,703.5 175.4,703.8 175.8,706.3 176.2,707.2 176.6,705.6 177.1,704.9 177.5,704.1 177.9,703.8 178.3,703.6 178.7,703.9 179.2,704.9 179.6,704.5 180.0,704.1 180.4,702.5 180.9,700.9 181.3,700.9 181.7,700.5 182.1,700.6 182.6,700.2 183.0,700.1 183.4,700.0 183.8,700.6 184.3,700.1 184.7,698.1 185.1,698.3 185.5,698.3 185.9,697.9 186.4,697.2 186.8,695.5 187.2,694.2 187.6,691.4 188.1,689.7 188.5,689.5 188.9,689.4 189.3,691.7 189.8,692.1 190.2,692.4 190.6,693.1 191.0,692.5 191.5,693.9 191.9,694.9 192.3,692.9 192.7,690.2 193.1,689.2 193.6,688.5 194.0,687.9 194.4,687.0 194.8,684.1 195.3,682.5 195.7,683.2 196.1,682.0 196.5,679.2 197.0,678.3 197.4,677.9 197.8,678.1 198.2,678.8 198.7,676.3 199.1,673.4 199.5,672.1 199.9,671.1 200.3,672.6 200.8,673.1 201.2,671.4 201.6,670.5 202.0,670.2 202.5,669.9 202.9,670.3 203.3,669.6 203.7,667.9 204.2,666.9 204.6,665.6 205.0,665.3 205.4,665.3 205.9,665.2 206.3,664.6 206.7,664.1 207.1,662.2 207.5,659.0 208.0,656.2 208.4,653.6 208.8,653.0 209.2,654.8 209.7,655.4 210.1,655.2 210.5,656.3 210.9,657.3 211.4,656.3 211.8,654.9 212.2,655.8 212.6,656.9 213.1,656.9 213.5,657.8 213.9,659.5 214.3,661.1 214.7,662.9 215.2,662.9 215.6,660.8 216.0,658.8 216.4,656.5 216.9,655.6 217.3,655.9 217.7,656.0 218.1,656.3 218.6,657.6 219.0,658.6 219.4,660.5 219.8,660.9 220.3,659.1 220.7,657.9 221.1,657.4 221.5,657.6 221.9,658.7 222.4,657.7 222.8,654.7 223.2,654.8 223.6,655.4 224.1,656.5 224.5,658.2 224.9,658.5 225.3,658.6 225.8,658.6 226.2,658.0 226.6,656.8 227.0,655.8 227.5,654.9 227.9,655.0 228.3,655.8 228.7,655.8 229.1,655.7 229.6,655.5 230.0,655.5 230.4,656.4 230.8,657.7 231.3,658.6 231.7,659.1 232.1,657.1 232.5,656.1 233.0,656.3 233.4,656.3 233.8,657.7 234.2,657.4 234.7,656.6 235.1,656.9 235.5,657.6 235.9,657.9 236.3,658.0 236.8,656.6 237.2,655.0 237.6,655.4 238.0,656.0 238.5,656.4 238.9,656.0 239.3,654.1 239.7,652.9 240.2,652.1 240.6,652.3 241.0,653.9 241.4,653.8 241.9,652.9 242.3,653.0 242.7,653.5 243.1,653.5 243.5,653.6 244.0,653.8 244.4,653.7 244.8,653.3 245.2,653.1 245.7,653.6 246.1,653.9 246.5,654.3 246.9,653.4 247.4,650.0 247.8,649.1 248.2,649.3 248.6,649.1 249.1,649.7 249.5,649.5 249.9,649.3 250.3,648.7 250.7,648.1 251.2,650.2 251.6,651.2 252.0,648.8 252.4,648.4 252.9,650.2 253.3,650.7 253.7,651.6 254.1,650.8 254.6,648.2 255.0,648.8 255.4,650.2 255.8,647.8 256.3,645.2 256.7,646.1 257.1,647.1 257.5,647.5 257.9,648.6 258.4,648.6 258.8,649.8 259.2,652.5 259.6,652.7 260.1,650.9 260.5,651.0 260.9,652.1 261.3,651.5 261.8,650.3 262.2,651.0 262.6,651.8 263.0,650.9 263.5,650.5 263.9,652.0 264.3,653.3 264.7,654.1 265.1,654.8 265.6,655.1 266.0,656.0 266.4,657.7 266.8,658.6 267.3,658.7 267.7,659.8" stroke="#a84545"/>
</g>
<polyline points="108.0,541.4 109.8,529.1 110.7,578.1" fill="none" stroke="#a00a0a" stroke-width="3"/>
<g fill="none" stroke-width="3.2" stroke-linejoin="round" clip-path="url(#clipc)">
<polyline points="278.7,665.8 279.1,666.5 279.6,668.1 280.0,668.3 280.4,667.6 280.8,668.2 281.3,668.4 281.7,668.1 282.1,669.4 282.5,671.5 283.0,672.7 283.4,671.8 283.8,669.3 284.2,669.1 284.7,669.5 285.1,669.1 285.5,670.2 285.9,671.4 286.4,670.2 286.8,668.4 287.2,669.0 287.6,668.5 288.1,667.4 288.5,667.6 288.9,668.2 289.3,670.2 289.8,669.6 290.2,667.0 290.6,667.4 291.0,667.8 291.5,668.8 291.9,670.6 292.3,671.0 292.8,668.8 293.2,668.3 293.6,670.4 294.0,669.2 294.5,667.8 294.9,668.7 295.3,668.4 295.7,669.3 296.2,670.7 296.6,670.4 297.0,670.3 297.4,670.7 297.9,671.5 298.3,671.0 298.7,668.7 299.1,666.3 299.6,665.7 300.0,666.4 300.4,667.9 300.8,667.2 301.3,666.9 301.7,667.7 302.1,669.3 302.5,670.9 303.0,669.3 303.4,668.9 303.8,669.7 304.2,670.4 304.7,671.5 305.1,671.3 305.5,707.5 306.0,722.4 306.4,734.3 306.8,738.6 307.2,734.5 307.7,725.1 308.1,714.4 308.5,708.1 308.9,709.1 309.4,709.7 309.8,708.3 310.2,706.6 310.6,705.8 311.1,705.9 311.5,712.0 311.9,723.9 312.3,739.3 312.8,753.5 313.2,771.9 313.6,781.7 314.0,782.1 314.5,780.4 314.9,770.8 315.3,759.4 315.7,749.1 316.2,743.4 316.6,738.2 317.0,745.9 317.5,759.5 317.9,776.9 318.3,777.1 318.7,760.6 319.2,747.2 319.6,734.1 320.0,737.4 320.4,747.7 320.9,755.0 321.3,754.9 321.7,746.9 322.1,732.1 322.6,720.2 323.0,707.1 323.4,694.4 323.8,688.1 324.3,690.2 324.7,698.2 325.1,707.8 325.5,715.5 326.0,722.8 326.4,733.8 326.8,741.5 327.2,743.5 327.7,737.3 328.1,725.4 328.5,714.6 328.9,701.6 329.4,687.8 329.8,680.8 330.2,682.1 330.7,690.1 331.1,702.7 331.5,711.9 331.9,724.2 332.4,735.7 332.8,739.9 333.2,736.9 333.6,728.5 334.1,716.9 334.5,707.8 334.9,700.3 335.3,693.4 335.8,688.8 336.2,691.1 336.6,698.8 337.0,706.3 337.5,710.2 337.9,712.7 338.3,717.3 338.7,720.4 339.2,721.6 339.6,719.7 340.0,715.3 340.4,711.4 340.9,708.8 341.3,705.6 341.7,702.5 342.1,700.7 342.6,699.7 343.0,701.1 343.4,704.4 343.9,707.5 344.3,709.8 344.7,713.5 345.1,717.7 345.6,721.2 346.0,723.1 346.4,722.6 346.8,719.1 347.3,714.9 347.7,710.6 348.1,705.5 348.5,699.3 349.0,694.0 349.4,691.9 349.8,693.3 350.2,696.5 350.7,700.6 351.1,704.3 351.5,706.6 351.9,710.0 352.4,714.0 352.8,715.6 353.2,715.8 353.6,715.5 354.1,713.1 354.5,709.9 354.9,706.4 355.3,705.9 355.8,704.5 356.2,702.1 356.6,701.0 357.1,701.3 357.5,701.6 357.9,702.4 358.3,703.9 358.8,704.1 359.2,706.1 359.6,710.5 360.0,714.3 360.5,714.3 360.9,711.8 361.3,710.2 361.7,707.9 362.2,705.2 362.6,701.8 363.0,698.6 363.4,695.4 363.9,694.8 364.3,697.7 364.7,700.1 365.1,703.3 365.6,705.4 366.0,707.4 366.4,708.6 366.8,708.7 367.3,708.7 367.7,706.3 368.1,703.8 368.5,702.1 369.0,698.4 369.4,696.0 369.8,695.7 370.3,696.5 370.7,698.9 371.1,702.4 371.5,703.9 372.0,707.3 372.4,709.8 372.8,709.0 373.2,708.1 373.7,707.2 374.1,705.0 374.5,702.9 374.9,699.8 375.4,696.6 375.8,696.6 376.2,698.8 376.6,701.0 377.1,703.8 377.5,706.4 377.9,708.7 378.3,710.0 378.8,711.0 379.2,711.3 379.6,708.0 380.0,703.6 380.5,702.1 380.9,700.3 381.3,698.0 381.8,696.0 382.2,695.9 382.6,698.6 383.0,701.5 383.5,703.1 383.9,705.8 384.3,709.1 384.7,713.1 385.2,714.5 385.6,713.2 386.0,709.3 386.4,703.9 386.9,701.0 387.3,698.8 387.7,697.1 388.1,694.6 388.6,693.8 389.0,695.1 389.4,696.7 389.8,697.7 390.3,699.0 390.7,700.8 391.1,702.3 391.5,703.5 392.0,703.2 392.4,701.4 392.8,700.9 393.2,700.6 393.7,698.6 394.1,696.6 394.5,695.4 395.0,693.6 395.4,691.5 395.8,690.4 396.2,689.4 396.7,689.2 397.1,690.2 397.5,692.3 397.9,693.8 398.4,693.6 398.8,693.8 399.2,695.0 399.6,694.6 400.1,693.6 400.5,692.5 400.9,691.3 401.3,688.2 401.8,685.2 402.2,682.8 402.6,679.6 403.0,676.9 403.5,675.9 403.9,677.5 404.3,679.9 404.7,681.6 405.2,684.2 405.6,685.8 406.0,686.3 406.4,686.6 406.9,686.2 407.3,685.8 407.7,683.8 408.2,681.5 408.6,680.6 409.0,679.3 409.4,677.7 409.9,678.4 410.3,679.5 410.7,680.5 411.1,682.3 411.6,685.3 412.0,687.4 412.4,687.7 412.8,687.9 413.3,687.5 413.7,685.7 414.1,684.6 414.5,681.6 415.0,678.5 415.4,677.5 415.8,678.8 416.2,681.3 416.7,684.4 417.1,687.5 417.5,690.0 417.9,692.5 418.4,694.5 418.8,695.4 419.2,693.3 419.6,690.2 420.1,687.8 420.5,684.3 420.9,682.0 421.4,681.6 421.8,682.6 422.2,684.0 422.6,685.8 423.1,688.3 423.5,690.4 423.9,692.7 424.3,695.1 424.8,693.8 425.2,691.7 425.6,689.1 426.0,686.4 426.5,685.5 426.9,683.0 427.3,680.1 427.7,678.3 428.2,678.1 428.6,679.8 429.0,682.3 429.4,684.6 429.9,685.7 430.3,686.0 430.7,686.1 431.1,686.5 431.6,686.3 432.0,685.1 432.4,684.4 432.8,682.3 433.3,680.2 433.7,679.1 434.1,677.7 434.6,676.5 435.0,674.5 435.4,673.9 435.8,674.9 436.3,676.2 436.7,676.5 437.1,676.2 437.5,677.8 438.0,678.5 438.4,679.8 438.8,680.6 439.2,678.3 439.7,675.1 440.1,673.2 440.5,672.7 440.9,670.7 441.4,667.0 441.8,664.5 442.2,663.9 442.6,664.3 443.1,665.4 443.5,666.7 443.9,667.7 444.3,667.6 444.8,668.4 445.2,670.0 445.6,671.0 446.1,669.6 446.5,673.8 446.9,670.0 447.3,666.9 447.8,664.5 448.2,660.0 448.6,658.7 449.0,659.0 449.5,659.5 449.9,663.1 450.3,667.1 450.7,670.8 451.2,673.8 451.6,677.6 452.0,681.7 452.4,683.2 452.9,682.1 453.3,679.2 453.7,677.6 454.1,676.3 454.6,671.7 455.0,666.6 455.4,663.4 455.8,665.6 456.3,671.8 456.7,679.9 457.1,685.0 457.5,692.5 458.0,700.3 458.4,702.4 458.8,699.4 459.3,694.4 459.7,686.5 460.1,679.8 460.5,672.7 461.0,668.3 461.4,667.6 461.8,671.8 462.2,678.4 462.7,684.1 463.1,689.7 463.5,696.5 463.9,700.1 464.4,700.7 464.8,699.1" stroke="#5066bf"/>
<polyline points="278.7,651.4 279.1,649.5 279.6,649.6 280.0,650.5 280.4,651.8 280.8,650.8 281.3,650.8 281.7,652.3 282.1,652.8 282.5,654.3 283.0,654.6 283.4,655.6 283.8,656.9 284.2,656.1 284.7,653.8 285.1,653.3 285.5,654.5 285.9,653.2 286.4,652.3 286.8,652.4 287.2,649.8 287.6,647.9 288.1,648.5 288.5,649.5 288.9,650.8 289.3,652.4 289.8,652.0 290.2,650.5 290.6,649.9 291.0,651.1 291.5,650.8 291.9,650.1 292.3,651.2 292.8,651.3 293.2,650.5 293.6,650.8 294.0,649.5 294.5,650.2 294.9,651.2 295.3,649.3 295.7,649.4 296.2,650.5 296.6,649.6 297.0,649.0 297.4,650.2 297.9,652.0 298.3,651.3 298.7,651.0 299.1,652.5 299.6,651.6 300.0,650.6 300.4,649.0 300.8,649.4 301.3,651.1 301.7,651.8 302.1,652.3 302.5,652.8 303.0,652.8 303.4,650.3 303.8,647.9 304.2,647.5 304.7,649.7 305.1,631.2 305.5,642.4 306.0,662.3 306.4,683.5 306.8,696.5 307.2,713.6 307.7,733.3 308.1,749.5 308.5,760.7 308.9,759.1 309.4,746.5 309.8,730.6 310.2,723.0 310.6,712.3 311.1,705.1 311.5,708.0 311.9,717.5 312.3,730.7 312.8,741.4 313.2,749.4 313.6,756.3 314.0,764.6 314.5,771.5 314.9,773.4 315.3,769.8 315.7,760.8 316.2,747.4 316.6,737.6 317.0,727.9 317.5,721.0 317.9,718.5 318.3,720.0 318.7,722.4 319.2,725.9 319.6,729.9 320.0,735.9 320.4,740.8 320.9,744.3 321.3,741.0 321.7,731.0 322.1,721.9 322.6,713.2 323.0,702.5 323.4,696.6 323.8,698.9 324.3,706.5 324.7,715.2 325.1,720.0 325.5,726.4 326.0,714.3 326.4,680.9 326.8,680.9 327.2,706.3 327.7,714.1 328.1,705.1 328.5,697.4 328.9,695.9 329.4,699.7 329.8,707.6 330.2,714.9 330.7,721.0 331.1,725.4 331.5,726.1 331.9,723.1 332.4,717.4 332.8,712.7 333.2,707.7 333.6,696.7 334.1,688.6 334.5,687.8 334.9,694.5 335.3,706.5 335.8,714.1 336.2,723.2 336.6,730.9 337.0,732.0 337.5,728.2 337.9,721.1 338.3,713.1 338.7,706.2 339.2,697.5 339.6,692.9 340.0,694.6 340.4,700.0 340.9,706.0 341.3,711.4 341.7,715.2 342.1,719.2 342.6,723.1 343.0,723.7 343.4,720.9 343.9,716.0 344.3,711.0 344.7,706.5 345.1,700.4 345.6,697.3 346.0,696.2 346.4,698.7 346.8,703.9 347.3,707.1 347.7,708.7 348.1,711.3 348.5,714.8 349.0,719.0 349.4,721.0 349.8,720.2 350.2,716.3 350.7,709.2 351.1,703.5 351.5,695.7 351.9,688.2 352.4,684.4 352.8,686.1 353.2,692.3 353.6,698.5 354.1,704.3 354.5,710.9 354.9,717.8 355.3,721.7 355.8,721.7 356.2,718.5 356.6,713.4 357.1,706.3 357.5,701.4 357.9,698.2 358.3,695.0 358.8,692.9 359.2,694.7 359.6,699.4 360.0,703.2 360.5,704.5 360.9,705.8 361.3,708.7 361.7,713.1 362.2,715.1 362.6,714.1 363.0,708.8 363.4,702.7 363.9,695.8 364.3,690.7 364.7,690.2 365.1,694.0 365.6,699.6 366.0,703.7 366.4,705.2 366.8,706.6 367.3,708.1 367.7,707.8 368.1,705.0 368.5,702.3 369.0,701.7 369.4,699.1 369.8,696.3 370.3,696.6 370.7,697.7 371.1,698.6 371.5,699.2 372.0,702.2 372.4,706.4 372.8,708.2 373.2,707.8 373.7,704.8 374.1,700.1 374.5,697.1 374.9,693.5 375.4,691.8 375.8,692.0 376.2,693.7 376.6,698.0 377.1,700.7 377.5,703.6 377.9,706.5 378.3,707.5 378.8,706.2 379.2,701.7 379.6,697.2 380.0,691.9 380.5,687.4 380.9,685.8 381.3,687.5 381.8,692.3 382.2,695.8 382.6,697.5 383.0,698.4 383.5,699.6 383.9,699.8 384.3,698.8 384.7,697.5 385.2,696.2 385.6,694.8 386.0,691.6 386.4,690.5 386.9,690.5 387.3,690.2 387.7,690.4 388.1,692.1 388.6,694.0 389.0,695.7 389.4,696.9 389.8,698.9 390.3,698.3 390.7,695.5 391.1,693.6 391.5,691.7 392.0,689.8 392.4,687.6 392.8,686.4 393.2,685.6 393.7,684.1 394.1,683.9 394.5,685.3 395.0,686.7 395.4,688.6 395.8,691.2 396.2,693.6 396.7,694.3 397.1,691.4 397.5,688.1 397.9,685.2 398.4,682.3 398.8,677.9 399.2,673.8 399.6,671.2 400.1,669.9 400.5,671.4 400.9,673.7 401.3,675.6 401.8,678.9 402.2,682.7 402.6,684.7 403.0,685.6 403.5,682.9 403.9,678.1 404.3,674.7 404.7,671.3 405.2,666.2 405.6,664.3 406.0,665.0 406.4,667.7 406.9,672.1 407.3,676.0 407.7,677.2 408.2,677.6 408.6,678.8 409.0,679.4 409.4,679.0 409.9,676.6 410.3,673.3 410.7,670.5 411.1,668.3 411.6,666.9 412.0,667.9 412.4,672.1 412.8,676.1 413.3,678.4 413.7,682.2 414.1,683.7 414.5,682.7 415.0,680.2 415.4,677.0 415.8,675.9 416.2,673.4 416.7,671.1 417.1,670.6 417.5,672.1 417.9,675.1 418.4,678.3 418.8,683.0 419.2,685.1 419.6,683.8 420.1,681.9 420.5,680.8 420.9,679.7 421.4,678.1 421.8,676.8 422.2,675.3 422.6,675.6 423.1,676.3 423.5,678.2 423.9,679.9 424.3,681.2 424.8,683.8 425.2,683.8 425.6,681.4 426.0,679.4 426.5,676.8 426.9,673.8 427.3,671.5 427.7,669.9 428.2,669.9 428.6,671.8 429.0,674.3 429.4,676.8 429.9,678.0 430.3,678.0 430.7,678.0 431.1,677.4 431.6,676.4 432.0,675.3 432.4,673.0 432.8,671.1 433.3,668.6 433.7,666.4 434.1,666.1 434.6,665.7 435.0,666.6 435.4,668.5 435.8,669.6 436.3,670.3 436.7,670.9 437.1,670.6 437.5,670.4 438.0,669.7 438.4,668.3 438.8,667.1 439.2,665.2 439.7,662.4 440.1,659.4 440.5,658.6 440.9,659.1 441.4,659.3 441.8,660.2 442.2,660.4 442.6,660.6 443.1,663.9 443.5,666.9 443.9,666.8 444.3,664.3 444.8,661.9 445.2,658.8 445.6,655.2 446.1,653.2 446.5,647.3 446.9,646.3 447.3,647.5 447.8,650.4 448.2,655.4 448.6,659.9 449.0,667.6 449.5,674.9 449.9,678.6 450.3,677.3 450.7,672.0 451.2,666.2 451.6,662.7 452.0,657.8 452.4,655.3 452.9,656.2 453.3,658.9 453.7,663.6 454.1,668.5 454.6,673.6 455.0,681.0 455.4,687.3 455.8,688.3 456.3,682.8 456.7,675.5 457.1,670.5 457.5,663.1 458.0,660.9 458.4,664.7 458.8,669.6 459.3,672.9 459.7,676.1 460.1,681.2 460.5,684.1 461.0,683.9 461.4,682.2 461.8,679.8 462.2,676.6 462.7,674.1 463.1,672.2 463.5,669.3 463.9,668.3 464.4,671.5 464.8,678.3" stroke="#4d5d9c"/>
<polyline points="278.7,634.7 279.1,635.6 279.6,635.0 280.0,635.1 280.4,637.2 280.8,638.5 281.3,638.5 281.7,637.1 282.1,636.9 282.5,636.9 283.0,637.3 283.4,638.4 283.8,638.7 284.2,638.1 284.7,639.5 285.1,638.6 285.5,638.1 285.9,639.0 286.4,638.5 286.8,637.1 287.2,636.9 287.6,635.9 288.1,633.9 288.5,635.3 288.9,637.0 289.3,635.9 289.8,635.6 290.2,635.5 290.6,633.9 291.0,635.0 291.5,636.6 291.9,635.5 292.3,635.9 292.8,638.1 293.2,637.6 293.6,636.4 294.0,635.6 294.5,635.1 294.9,636.4 295.3,637.6 295.7,637.8 296.2,638.0 296.6,638.9 297.0,639.0 297.4,638.1 297.9,636.0 298.3,634.6 298.7,634.7 299.1,634.0 299.6,635.4 300.0,636.1 300.4,635.8 300.8,636.5 301.3,635.5 301.7,635.9 302.1,634.8 302.5,634.6 303.0,635.6 303.4,634.4 303.8,635.4 304.2,635.3 304.7,634.7 305.1,635.0 305.5,634.5 306.0,607.5 306.4,610.2 306.8,628.8 307.2,659.1 307.7,687.1 308.1,705.5 308.5,733.0 308.9,754.8 309.4,767.8 309.8,770.3 310.2,763.3 310.6,750.7 311.1,737.6 311.5,731.3 311.9,723.6 312.3,719.7 312.8,719.9 313.2,724.1 313.6,738.7 314.0,756.8 314.5,769.4 314.9,776.9 315.3,782.6 315.7,784.7 316.2,784.0 316.6,778.5 317.0,757.5 317.5,738.2 317.9,721.8 318.3,702.1 318.7,687.9 319.2,685.9 319.6,696.2 320.0,712.4 320.4,725.5 320.9,736.2 321.3,747.0 321.7,750.9 322.1,747.3 322.6,738.2 323.0,726.5 323.4,717.3 323.8,703.2 324.3,689.9 324.7,684.8 325.1,688.9 325.5,701.5 326.0,714.6 326.4,725.1 326.8,738.4 327.2,746.9 327.7,745.2 328.1,734.1 328.5,718.8 328.9,707.2 329.4,694.1 329.8,683.5 330.2,681.9 330.7,690.7 331.1,704.3 331.5,713.9 331.9,726.9 332.4,738.0 332.8,739.1 333.2,731.9 333.6,720.8 334.1,712.6 334.5,706.4 334.9,700.4 335.3,698.7 335.8,698.6 336.2,701.1 336.6,707.8 337.0,713.2 337.5,717.2 337.9,720.8 338.3,721.8 338.7,720.2 339.2,717.1 339.6,711.8 340.0,706.9 340.4,698.3 340.9,690.4 341.3,686.9 341.7,689.8 342.1,698.0 342.6,706.8 343.0,710.4 343.4,715.0 343.9,718.9 344.3,719.8 344.7,718.7 345.1,715.7 345.6,711.2 346.0,707.6 346.4,705.3 346.8,701.0 347.3,697.5 347.7,696.1 348.1,697.9 348.5,701.2 349.0,704.0 349.4,706.3 349.8,710.1 350.2,713.3 350.7,713.6 351.1,712.9 351.5,713.5 351.9,712.8 352.4,709.4 352.8,706.3 353.2,701.7 353.6,696.5 354.1,692.6 354.5,692.6 354.9,696.2 355.3,701.1 355.8,705.5 356.2,708.2 356.6,712.2 357.1,715.1 357.5,716.1 357.9,714.7 358.3,712.1 358.8,709.5 359.2,705.9 359.6,702.2 360.0,698.9 360.5,696.9 360.9,696.9 361.3,697.9 361.7,700.0 362.2,701.7 362.6,704.2 363.0,709.3 363.4,713.7 363.9,714.7 364.3,710.3 364.7,704.3 365.1,701.2 365.6,698.2 366.0,696.1 366.4,695.0 366.8,694.5 367.3,695.8 367.7,698.4 368.1,700.5 368.5,705.2 369.0,710.2 369.4,711.3 369.8,708.6 370.3,702.5 370.7,696.8 371.1,691.4 371.5,688.0 372.0,688.5 372.4,690.9 372.8,694.5 373.2,696.5 373.7,697.7 374.1,700.3 374.5,702.3 374.9,703.1 375.4,700.8 375.8,696.3 376.2,691.8 376.6,683.5 377.1,678.9 377.5,680.3 377.9,684.3 378.3,689.1 378.8,691.6 379.2,694.3 379.6,695.6 380.0,696.6 380.5,695.7 380.9,692.4 381.3,689.8 381.8,689.0 382.2,687.4 382.6,684.3 383.0,683.3 383.5,684.6 383.9,685.3 384.3,685.7 384.7,688.3 385.2,691.1 385.6,693.9 386.0,696.9 386.4,695.3 386.9,691.7 387.3,688.0 387.7,685.4 388.1,682.2 388.6,678.2 389.0,674.8 389.4,673.3 389.8,675.5 390.3,679.4 390.7,683.1 391.1,684.5 391.5,685.3 392.0,687.7 392.4,688.3 392.8,687.7 393.2,686.3 393.7,682.5 394.1,677.5 394.5,673.9 395.0,669.5 395.4,666.6 395.8,665.2 396.2,664.4 396.7,667.1 397.1,670.2 397.5,671.5 397.9,672.3 398.4,674.3 398.8,674.7 399.2,674.5 399.6,674.3 400.1,672.3 400.5,669.1 400.9,666.8 401.3,662.8 401.8,659.3 402.2,657.7 402.6,656.8 403.0,658.1 403.5,660.3 403.9,662.8 404.3,665.4 404.7,666.7 405.2,668.8 405.6,669.7 406.0,668.0 406.4,665.0 406.9,663.5 407.3,662.8 407.7,660.8 408.2,658.9 408.6,659.3 409.0,661.6 409.4,663.9 409.9,665.2 410.3,668.0 410.7,671.4 411.1,674.1 411.6,673.5 412.0,669.4 412.4,665.4 412.8,662.3 413.3,659.2 413.7,659.6 414.1,661.4 414.5,663.5 415.0,666.9 415.4,669.0 415.8,670.2 416.2,670.9 416.7,671.7 417.1,671.2 417.5,669.4 417.9,667.7 418.4,666.7 418.8,666.6 419.2,665.5 419.6,665.6 420.1,667.9 420.5,669.5 420.9,670.3 421.4,673.3 421.8,675.6 422.2,676.0 422.6,673.8 423.1,670.6 423.5,669.0 423.9,667.8 424.3,667.2 424.8,665.0 425.2,664.5 425.6,665.6 426.0,666.5 426.5,667.5 426.9,670.1 427.3,673.6 427.7,674.5 428.2,672.4 428.6,669.2 429.0,666.7 429.4,665.2 429.9,663.1 430.3,661.2 430.7,660.6 431.1,660.7 431.6,660.6 432.0,663.2 432.4,664.0 432.8,663.8 433.3,665.5 433.7,667.7 434.1,667.6 434.6,665.1 435.0,662.8 435.4,660.1 435.8,657.9 436.3,656.4 436.7,654.7 437.1,654.4 437.5,655.1 438.0,654.6 438.4,654.7 438.8,654.8 439.2,655.3 439.7,657.7 440.1,659.6 440.5,659.2 440.9,658.0 441.4,655.8 441.8,652.1 442.2,649.5 442.6,647.4 443.1,644.8 443.5,643.1 443.9,641.4 444.3,640.7 444.8,642.1 445.2,643.8 445.6,645.1 446.1,646.6 446.5,654.6 446.9,658.0 447.3,657.4 447.8,654.5 448.2,651.2 448.6,647.8 449.0,644.6 449.5,640.5 449.9,638.2 450.3,638.9 450.7,642.8 451.2,649.4 451.6,653.2 452.0,657.4 452.4,662.9 452.9,665.3 453.3,664.2 453.7,662.2 454.1,658.8 454.6,655.8 455.0,653.3 455.4,651.4 455.8,651.1 456.3,654.4 456.7,659.8 457.1,663.9 457.5,667.6 458.0,671.1 458.4,674.0 458.8,673.6 459.3,669.0 459.7,663.8 460.1,660.6 460.5,657.6 461.0,655.3 461.4,655.9 461.8,659.3 462.2,663.7 462.7,668.3 463.1,675.7 463.5,680.2 463.9,681.4 464.4,679.1 464.8,672.9" stroke="#1842e0"/>
<polyline points="278.7,619.1 279.1,620.2 279.6,619.6 280.0,620.6 280.4,622.1 280.8,620.6 281.3,619.6 281.7,619.1 282.1,620.1 282.5,621.8 283.0,622.8 283.4,623.9 283.8,624.4 284.2,624.6 284.7,623.4 285.1,624.4 285.5,623.7 285.9,621.5 286.4,621.6 286.8,621.7 287.2,622.2 287.6,622.6 288.1,622.9 288.5,623.1 288.9,622.9 289.3,622.5 289.8,622.3 290.2,620.6 290.6,619.4 291.0,620.4 291.5,623.2 291.9,624.7 292.3,623.1 292.8,621.0 293.2,620.4 293.6,620.6 294.0,619.2 294.5,620.1 294.9,621.5 295.3,620.9 295.7,621.8 296.2,622.1 296.6,621.7 297.0,623.4 297.4,623.2 297.9,623.1 298.3,622.1 298.7,620.0 299.1,620.3 299.6,619.5 300.0,620.0 300.4,621.3 300.8,621.7 301.3,622.8 301.7,621.2 302.1,621.8 302.5,621.9 303.0,620.1 303.4,619.9 303.8,620.4 304.2,619.7 304.7,618.0 305.1,620.3 305.5,621.8 306.0,618.5 306.4,786.6 306.8,751.8 307.2,623.0 307.7,505.1 308.1,490.8 308.5,553.5 308.9,678.2 309.4,717.1 309.8,727.4 310.2,711.0 310.6,730.4 311.1,743.5 311.5,765.5 311.9,784.1 312.3,783.1 312.8,782.7 313.2,782.8 313.6,782.3 314.0,761.3 314.5,748.0 314.9,735.7 315.3,724.1 315.7,716.2 316.2,712.8 316.6,714.1 317.0,720.6 317.5,728.6 317.9,734.0 318.3,739.1 318.7,745.0 319.2,749.8 319.6,750.5 320.0,748.5 320.4,742.0 320.9,730.3 321.3,718.9 321.7,701.7 322.1,686.3 322.6,679.0 323.0,681.1 323.4,691.1 323.8,705.5 324.3,717.9 324.7,731.6 325.1,744.4 325.5,750.8 326.0,747.3 326.4,736.4 326.8,723.4 327.2,714.6 327.7,707.4 328.1,703.6 328.5,703.4 328.9,704.3 329.4,705.7 329.8,708.5 330.2,712.8 330.7,722.2 331.1,735.1 331.5,742.0 331.9,739.6 332.4,730.8 332.8,719.1 333.2,710.6 333.6,699.9 334.1,689.1 334.5,684.7 334.9,686.7 335.3,693.1 335.8,703.3 336.2,712.2 336.6,720.1 337.0,728.2 337.5,734.2 337.9,736.5 338.3,732.0 338.7,722.0 339.2,713.1 339.6,708.1 340.0,701.2 340.4,694.6 340.9,691.2 341.3,693.1 341.7,697.9 342.1,703.6 342.6,708.2 343.0,711.2 343.4,718.2 343.9,724.6 344.3,727.7 344.7,728.3 345.1,724.9 345.6,718.6 346.0,711.9 346.4,708.3 346.8,702.6 347.3,696.8 347.7,693.1 348.1,690.5 348.5,693.7 349.0,699.1 349.4,704.5 349.8,708.1 350.2,709.0 350.7,711.2 351.1,714.0 351.5,715.6 351.9,714.8 352.4,713.3 352.8,711.8 353.2,710.4 353.6,707.8 354.1,706.4 354.5,704.5 354.9,701.9 355.3,699.3 355.8,696.5 356.2,695.7 356.6,698.5 357.1,703.6 357.5,706.5 357.9,709.3 358.3,714.4 358.8,719.2 359.2,720.9 359.6,720.3 360.0,715.5 360.5,708.7 360.9,703.7 361.3,697.7 361.7,692.4 362.2,691.0 362.6,692.1 363.0,694.4 363.4,697.0 363.9,699.9 364.3,701.8 364.7,703.2 365.1,705.9 365.6,708.9 366.0,709.6 366.4,707.0 366.8,701.9 367.3,697.3 367.7,692.6 368.1,687.7 368.5,685.4 369.0,686.7 369.4,689.7 369.8,692.2 370.3,694.3 370.7,697.6 371.1,702.1 371.5,704.6 372.0,703.0 372.4,699.1 372.8,695.0 373.2,690.6 373.7,687.3 374.1,683.8 374.5,680.6 374.9,679.8 375.4,681.2 375.8,686.0 376.2,690.0 376.6,693.0 377.1,696.7 377.5,699.2 377.9,697.6 378.3,693.9 378.8,689.7 379.2,687.1 379.6,685.1 380.0,680.9 380.5,677.9 380.9,676.6 381.3,676.8 381.8,680.5 382.2,685.0 382.6,686.2 383.0,689.3 383.5,692.4 383.9,692.8 384.3,692.1 384.7,689.3 385.2,685.8 385.6,681.8 386.0,678.6 386.4,675.9 386.9,674.1 387.3,672.9 387.7,672.5 388.1,672.6 388.6,672.8 389.0,674.4 389.4,676.1 389.8,679.5 390.3,683.0 390.7,685.2 391.1,685.8 391.5,683.6 392.0,679.4 392.4,675.0 392.8,672.2 393.2,670.3 393.7,667.0 394.1,665.6 394.5,664.9 395.0,663.8 395.4,664.0 395.8,664.6 396.2,666.3 396.7,668.2 397.1,669.5 397.5,670.1 397.9,670.9 398.4,673.3 398.8,672.9 399.2,670.2 399.6,666.5 400.1,661.0 400.5,657.6 400.9,654.9 401.3,653.1 401.8,652.7 402.2,653.7 402.6,653.9 403.0,653.0 403.5,653.4 403.9,654.3 404.3,657.8 404.7,661.7 405.2,664.0 405.6,664.8 406.0,663.2 406.4,660.1 406.9,656.7 407.3,655.0 407.7,653.5 408.2,652.8 408.6,652.6 409.0,653.4 409.4,654.9 409.9,655.6 410.3,656.4 410.7,658.2 411.1,658.7 411.6,658.7 412.0,659.3 412.4,659.2 412.8,659.0 413.3,657.5 413.7,654.7 414.1,651.5 414.5,649.0 415.0,649.6 415.4,651.9 415.8,654.8 416.2,659.2 416.7,662.5 417.1,666.2 417.5,668.4 417.9,666.6 418.4,664.4 418.8,662.8 419.2,660.5 419.6,658.6 420.1,656.6 420.5,655.1 420.9,655.8 421.4,656.7 421.8,658.6 422.2,659.3 422.6,659.9 423.1,662.4 423.5,665.4 423.9,667.1 424.3,665.4 424.8,662.1 425.2,659.7 425.6,659.0 426.0,657.0 426.5,655.6 426.9,655.0 427.3,654.3 427.7,655.1 428.2,657.5 428.6,658.6 429.0,658.8 429.4,661.1 429.9,663.7 430.3,663.7 430.7,662.9 431.1,662.4 431.6,659.2 432.0,656.0 432.4,654.7 432.8,652.1 433.3,649.0 433.7,647.9 434.1,648.3 434.6,648.6 435.0,650.5 435.4,652.3 435.8,653.2 436.3,653.4 436.7,653.9 437.1,654.3 437.5,653.4 438.0,651.7 438.4,651.0 438.8,649.7 439.2,648.1 439.7,647.2 440.1,645.3 440.5,643.6 440.9,641.3 441.4,640.1 441.8,640.5 442.2,640.3 442.6,640.6 443.1,640.7 443.5,641.2 443.9,643.6 444.3,644.6 444.8,644.4 445.2,642.4 445.6,641.0 446.1,639.2 446.5,637.4 446.9,636.7 447.3,635.1 447.8,631.6 448.2,628.7 448.6,627.3 449.0,629.2 449.5,634.0 449.9,640.1 450.3,644.9 450.7,650.7 451.2,654.4 451.6,656.4 452.0,657.4 452.4,655.3 452.9,652.0 453.3,648.7 453.7,644.1 454.1,640.1 454.6,638.3 455.0,638.4 455.4,641.3 455.8,646.6 456.3,652.0 456.7,658.0 457.1,665.6 457.5,670.3 458.0,669.5 458.4,666.2 458.8,662.7 459.3,658.4 459.7,655.3 460.1,652.3 460.5,648.1 461.0,645.6 461.4,647.7 461.8,653.1 462.2,658.2 462.7,664.2 463.1,671.4 463.5,675.0 463.9,673.3 464.4,667.4 464.8,662.0" stroke="#3c50a8"/>
<polyline points="278.7,602.9 279.1,605.3 279.6,608.2 280.0,607.2 280.4,606.3 280.8,607.4 281.3,606.2 281.7,605.3 282.1,606.1 282.5,607.1 283.0,608.1 283.4,608.6 283.8,608.7 284.2,608.3 284.7,608.1 285.1,608.8 285.5,607.3 285.9,607.5 286.4,607.6 286.8,606.7 287.2,607.0 287.6,607.0 288.1,607.9 288.5,607.7 288.9,607.7 289.3,608.8 289.8,607.2 290.2,606.1 290.6,607.5 291.0,606.0 291.5,604.8 291.9,606.8 292.3,607.5 292.8,608.6 293.2,609.0 293.6,608.8 294.0,608.8 294.5,608.0 294.9,610.1 295.3,610.2 295.7,607.3 296.2,606.3 296.6,607.7 297.0,607.7 297.4,607.1 297.9,607.6 298.3,606.5 298.7,604.7 299.1,606.1 299.6,607.2 300.0,605.9 300.4,605.1 300.8,607.1 301.3,609.3 301.7,607.3 302.1,606.7 302.5,608.7 303.0,607.1 303.4,605.9 303.8,605.4 304.2,604.2 304.7,605.5 305.1,606.3 305.5,606.4 306.0,605.8 306.4,606.5 306.8,585.8 307.2,563.4 307.7,552.8 308.1,553.7 308.5,554.0 308.9,621.6 309.4,688.8 309.8,726.4 310.2,735.7 310.6,750.5 311.1,766.4 311.5,775.3 311.9,776.9 312.3,773.0 312.8,766.8 313.2,759.0 313.6,750.2 314.0,742.6 314.5,734.3 314.9,730.0 315.3,729.4 315.7,730.9 316.2,732.4 316.6,733.5 317.0,736.2 317.5,740.5 317.9,754.4 318.3,769.1 318.7,777.1 319.2,774.1 319.6,758.7 320.0,723.7 320.4,643.5 320.9,643.5 321.3,699.0 321.7,692.5 322.1,691.1 322.6,694.4 323.0,705.6 323.4,715.9 323.8,721.6 324.3,732.7 324.7,740.1 325.1,740.4 325.5,735.4 326.0,727.0 326.4,716.6 326.8,708.9 327.2,699.7 327.7,690.0 328.1,686.8 328.5,692.8 328.9,703.0 329.4,712.5 329.8,719.8 330.2,726.8 330.7,728.7 331.1,727.1 331.5,722.4 331.9,653.8 332.4,641.1 332.8,674.1 333.2,699.3 333.6,691.2 334.1,688.2 334.5,692.0 334.9,701.4 335.3,711.3 335.8,719.2 336.2,726.9 336.6,730.4 337.0,729.8 337.5,725.8 337.9,718.0 338.3,712.1 338.7,709.3 339.2,702.6 339.6,695.2 340.0,689.2 340.4,689.2 340.9,694.2 341.3,702.2 341.7,711.3 342.1,717.6 342.6,723.0 343.0,726.1 343.4,725.7 343.9,722.2 344.3,717.9 344.7,713.6 345.1,710.5 345.6,708.5 346.0,704.6 346.4,699.3 346.8,695.4 347.3,695.1 347.7,698.0 348.1,701.0 348.5,704.8 349.0,708.4 349.4,712.2 349.8,716.5 350.2,718.9 350.7,719.0 351.1,718.1 351.5,715.8 351.9,713.1 352.4,709.9 352.8,707.7 353.2,703.9 353.6,697.6 354.1,694.3 354.5,694.3 354.9,696.6 355.3,699.7 355.8,703.3 356.2,707.1 356.6,707.8 357.1,708.9 357.5,709.5 357.9,709.9 358.3,710.8 358.8,709.7 359.2,708.0 359.6,705.3 360.0,703.5 360.5,701.0 360.9,697.5 361.3,696.1 361.7,695.5 362.2,695.6 362.6,697.0 363.0,698.4 363.4,699.9 363.9,703.3 364.3,706.1 364.7,706.5 365.1,705.3 365.6,701.8 366.0,697.1 366.4,695.2 366.8,693.2 367.3,691.8 367.7,690.9 368.1,689.5 368.5,688.8 369.0,691.2 369.4,694.4 369.8,700.0 370.3,704.8 370.7,705.4 371.1,702.2 371.5,697.6 372.0,693.6 372.4,688.8 372.8,685.0 373.2,683.7 373.7,682.4 374.1,683.0 374.5,684.6 374.9,686.3 375.4,688.9 375.8,692.1 376.2,692.7 376.6,691.5 377.1,691.0 377.5,688.2 377.9,684.3 378.3,682.6 378.8,678.7 379.2,674.6 379.6,673.5 380.0,674.6 380.5,677.4 380.9,680.1 381.3,682.0 381.8,684.3 382.2,685.1 382.6,686.2 383.0,685.6 383.5,683.6 383.9,681.3 384.3,679.2 384.7,675.9 385.2,670.4 385.6,666.9 386.0,663.3 386.4,662.2 386.9,665.4 387.3,670.6 387.7,674.5 388.1,675.2 388.6,677.2 389.0,678.5 389.4,678.3 389.8,677.1 390.3,675.9 390.7,673.9 391.1,670.2 391.5,666.6 392.0,663.3 392.4,660.2 392.8,658.7 393.2,657.3 393.7,656.7 394.1,659.1 394.5,661.6 395.0,661.7 395.4,661.2 395.8,661.6 396.2,662.6 396.7,663.9 397.1,663.2 397.5,661.3 397.9,659.7 398.4,657.8 398.8,655.8 399.2,654.4 399.6,652.4 400.1,650.2 400.5,648.2 400.9,647.2 401.3,646.4 401.8,647.2 402.2,648.7 402.6,649.8 403.0,652.0 403.5,654.1 403.9,656.4 404.3,657.0 404.7,655.7 405.2,653.2 405.6,650.4 406.0,648.4 406.4,645.1 406.9,642.8 407.3,640.6 407.7,640.2 408.2,643.9 408.6,647.9 409.0,651.4 409.4,655.1 409.9,657.4 410.3,659.0 410.7,658.3 411.1,656.4 411.6,652.8 412.0,649.7 412.4,647.5 412.8,644.9 413.3,642.8 413.7,641.9 414.1,643.7 414.5,648.2 415.0,651.5 415.4,654.6 415.8,658.0 416.2,659.3 416.7,658.1 417.1,655.8 417.5,652.8 417.9,652.6 418.4,650.8 418.8,649.2 419.2,650.2 419.6,650.1 420.1,651.6 420.5,653.7 420.9,653.1 421.4,654.4 421.8,655.5 422.2,655.1 422.6,655.9 423.1,656.1 423.5,653.5 423.9,651.5 424.3,650.7 424.8,649.6 425.2,648.6 425.6,647.9 426.0,649.5 426.5,652.3 426.9,653.9 427.3,654.9 427.7,656.8 428.2,659.4 428.6,661.4 429.0,660.6 429.4,657.0 429.9,653.2 430.3,651.1 430.7,648.5 431.1,645.0 431.6,643.5 432.0,642.4 432.4,641.3 432.8,641.5 433.3,644.1 433.7,645.8 434.1,645.5 434.6,647.8 435.0,650.2 435.4,650.2 435.8,649.2 436.3,647.1 436.7,644.3 437.1,643.5 437.5,643.5 438.0,642.2 438.4,640.1 438.8,638.7 439.2,636.7 439.7,634.5 440.1,634.2 440.5,635.6 440.9,637.5 441.4,637.8 441.8,638.7 442.2,640.5 442.6,641.3 443.1,640.9 443.5,639.7 443.9,638.9 444.3,636.9 444.8,633.7 445.2,632.0 445.6,630.8 446.1,630.0 446.5,624.1 446.9,624.9 447.3,626.3 447.8,628.3 448.2,631.8 448.6,636.0 449.0,640.7 449.5,644.1 449.9,645.3 450.3,645.9 450.7,645.2 451.2,640.5 451.6,637.1 452.0,635.2 452.4,631.3 452.9,629.1 453.3,629.2 453.7,631.3 454.1,637.8 454.6,643.9 455.0,647.2 455.4,654.2 455.8,660.9 456.3,661.9 456.7,659.9 457.1,655.7 457.5,649.0 458.0,643.2 458.4,636.9 458.8,632.8 459.3,632.8 459.7,636.6 460.1,643.8 460.5,650.8 461.0,656.3 461.4,662.4 461.8,664.8 462.2,665.0 462.7,661.6 463.1,656.4 463.5,652.3 463.9,648.8 464.4,645.1 464.8,642.3" stroke="#0c2a9e"/>
<polyline points="278.7,601.8 279.1,600.9 279.6,600.2 280.0,600.0 280.4,598.0 280.8,597.9 281.3,598.5 281.7,597.6 282.1,598.4 282.5,598.3 283.0,598.7 283.4,600.3 283.8,601.1 284.2,600.9 284.7,601.1 285.1,601.1 285.5,599.7 285.9,599.4 286.4,599.5 286.8,599.7 287.2,599.9 287.6,599.9 288.1,600.5 288.5,599.9 288.9,601.6 289.3,603.9 289.8,602.5 290.2,601.2 290.6,600.7 291.0,601.6 291.5,603.1 291.9,603.5 292.3,601.8 292.8,600.7 293.2,601.2 293.6,599.4 294.0,598.9 294.5,601.3 294.9,599.9 295.3,597.8 295.7,596.9 296.2,596.5 296.6,598.5 297.0,600.4 297.4,602.0 297.9,600.3 298.3,599.0 298.7,600.6 299.1,601.6 299.6,601.0 300.0,598.9 300.4,599.8 300.8,600.9 301.3,600.5 301.7,600.9 302.1,600.3 302.5,599.2 303.0,598.4 303.4,600.1 303.8,602.0 304.2,601.3 304.7,600.9 305.1,600.2 305.5,599.2 306.0,599.9 306.4,600.3 306.8,601.0 307.2,599.6 307.7,615.2 308.1,649.8 308.5,683.7 308.9,708.6 309.4,734.7 309.8,738.3 310.2,764.1 310.6,782.4 311.1,783.8 311.5,782.5 311.9,772.5 312.3,760.9 312.8,702.5 313.2,605.5 313.6,605.5 314.0,725.2 314.5,715.9 314.9,712.6 315.3,717.6 315.7,727.6 316.2,738.7 316.6,744.8 317.0,750.8 317.5,755.4 317.9,754.8 318.3,750.0 318.7,744.0 319.2,737.7 319.6,729.8 320.0,724.1 320.4,715.7 320.9,704.0 321.3,695.3 321.7,693.0 322.1,699.0 322.6,710.3 323.0,718.5 323.4,727.5 323.8,737.9 324.3,741.5 324.7,739.2 325.1,732.2 325.5,722.9 326.0,715.4 326.4,708.9 326.8,701.1 327.2,696.8 327.7,698.7 328.1,702.8 328.5,707.2 328.9,711.9 329.4,717.3 329.8,724.9 330.2,729.8 330.7,731.9 331.1,729.4 331.5,720.4 331.9,710.8 332.4,700.6 332.8,691.3 333.2,685.5 333.6,685.6 334.1,693.1 334.5,703.6 334.9,710.8 335.3,718.9 335.8,726.9 336.2,730.0 336.6,728.6 337.0,723.2 337.5,715.4 337.9,710.3 338.3,708.6 338.7,705.1 339.2,700.0 339.6,697.3 340.0,697.9 340.4,699.8 340.9,704.7 341.3,710.7 341.7,717.6 342.1,725.2 342.6,729.8 343.0,730.7 343.4,728.0 343.9,721.2 344.3,702.3 344.7,687.6 345.1,681.7 345.6,681.7 346.0,688.3 346.4,694.7 346.8,698.6 347.3,701.6 347.7,704.3 348.1,706.2 348.5,707.9 349.0,711.9 349.4,716.8 349.8,721.6 350.2,724.2 350.7,723.4 351.1,718.3 351.5,711.5 351.9,706.9 352.4,705.0 352.8,701.8 353.2,691.5 353.6,679.3 354.1,670.4 354.5,670.4 354.9,680.2 355.3,694.3 355.8,704.9 356.2,705.9 356.6,708.2 357.1,711.1 357.5,711.3 357.9,709.9 358.3,709.2 358.8,707.3 359.2,704.4 359.6,702.3 360.0,696.1 360.5,690.2 360.9,686.1 361.3,685.4 361.7,690.4 362.2,696.5 362.6,700.9 363.0,703.6 363.4,697.8 363.9,687.0 364.3,680.1 364.7,680.1 365.1,690.8 365.6,695.6 366.0,694.0 366.4,689.5 366.8,686.4 367.3,684.2 367.7,682.6 368.1,684.4 368.5,689.4 369.0,692.0 369.4,696.7 369.8,702.0 370.3,704.2 370.7,702.8 371.1,697.2 371.5,690.5 372.0,685.4 372.4,680.2 372.8,677.0 373.2,675.1 373.7,674.6 374.1,676.5 374.5,681.3 374.9,684.5 375.4,687.7 375.8,692.1 376.2,695.1 376.6,694.0 377.1,688.6 377.5,681.8 377.9,677.8 378.3,674.2 378.8,671.8 379.2,670.1 379.6,669.4 380.0,671.0 380.5,674.3 380.9,676.8 381.3,679.1 381.8,681.9 382.2,683.1 382.6,682.7 383.0,680.7 383.5,675.5 383.9,672.0 384.3,670.2 384.7,665.3 385.2,661.3 385.6,658.6 386.0,657.4 386.4,659.3 386.9,663.9 387.3,668.0 387.7,670.1 388.1,672.1 388.6,674.1 389.0,674.9 389.4,673.2 389.8,671.6 390.3,668.7 390.7,664.2 391.1,661.7 391.5,658.7 392.0,655.8 392.4,653.4 392.8,651.1 393.2,650.3 393.7,649.8 394.1,651.7 394.5,654.6 395.0,654.6 395.4,657.4 395.8,660.5 396.2,660.8 396.7,660.7 397.1,659.4 397.5,655.5 397.9,652.0 398.4,648.4 398.8,644.2 399.2,639.6 399.6,635.8 400.1,634.0 400.5,633.6 400.9,633.9 401.3,636.2 401.8,640.2 402.2,642.2 402.6,644.2 403.0,647.0 403.5,648.5 403.9,647.4 404.3,645.4 404.7,644.8 405.2,643.6 405.6,642.0 406.0,639.1 406.4,635.2 406.9,633.5 407.3,633.9 407.7,635.3 408.2,637.7 408.6,641.7 409.0,645.2 409.4,647.6 409.9,648.1 410.3,647.9 410.7,647.5 411.1,645.4 411.6,642.8 412.0,641.1 412.4,638.8 412.8,637.9 413.3,636.9 413.7,637.6 414.1,639.9 414.5,640.7 415.0,642.6 415.4,646.3 415.8,648.7 416.2,650.0 416.7,648.9 417.1,646.1 417.5,644.1 417.9,642.4 418.4,640.4 418.8,639.5 419.2,638.8 419.6,640.2 420.1,642.2 420.5,643.7 420.9,645.5 421.4,648.6 421.8,651.2 422.2,651.9 422.6,650.6 423.1,647.0 423.5,645.2 423.9,644.6 424.3,643.1 424.8,643.0 425.2,642.9 425.6,642.7 426.0,641.9 426.5,641.4 426.9,642.7 427.3,644.4 427.7,647.2 428.2,648.8 428.6,648.4 429.0,647.9 429.4,646.0 429.9,643.2 430.3,641.8 430.7,638.8 431.1,636.7 431.6,635.9 432.0,634.6 432.4,634.6 432.8,635.2 433.3,635.8 433.7,636.5 434.1,638.1 434.6,640.7 435.0,641.1 435.4,639.9 435.8,639.0 436.3,636.9 436.7,633.8 437.1,632.1 437.5,632.1 438.0,631.0 438.4,627.9 438.8,625.8 439.2,625.3 439.7,625.2 440.1,624.5 440.5,625.1 440.9,625.8 441.4,625.6 441.8,627.9 442.2,630.8 442.6,631.2 443.1,630.0 443.5,629.6 443.9,628.7 444.3,625.7 444.8,622.8 445.2,621.4 445.6,618.4 446.1,615.2 446.5,604.4 446.9,603.9 447.3,602.5 447.8,599.0 448.2,599.0 448.6,608.4 449.0,626.5 449.5,640.8 449.9,642.4 450.3,641.8 450.7,637.3 451.2,631.1 451.6,628.3 452.0,626.1 452.4,625.4 452.9,626.0 453.3,627.2 453.7,629.5 454.1,631.7 454.6,636.0 455.0,640.9 455.4,645.8 455.8,649.7 456.3,651.6 456.7,649.3 457.1,644.2 457.5,640.3 458.0,637.9 458.4,635.2 458.8,634.3 459.3,635.3 459.7,637.3 460.1,639.1 460.5,641.3 461.0,644.8 461.4,647.3 461.8,649.4 462.2,650.0 462.7,649.0 463.1,648.0 463.5,645.8 463.9,642.7 464.4,639.5 464.8,638.3" stroke="#0a1f8c"/>
</g>
<g fill="none" stroke-width="2.6" stroke-linejoin="round" clip-path="url(#clipd)">
<polyline points="475.5,671.1 475.9,672.5 476.4,672.3 476.8,671.4 477.2,670.9 477.6,670.4 478.1,670.2 478.5,670.1 478.9,670.5 479.3,670.6 479.8,669.8 480.2,669.5 480.6,669.6 481.0,669.8 481.5,670.5 481.9,670.3 482.3,669.6 482.7,669.8 483.2,670.3 483.6,670.4 484.0,670.5 484.4,670.1 484.9,669.8 485.3,669.8 485.7,669.9 486.1,670.0 486.6,670.2 487.0,670.0 487.4,669.8 487.8,669.5 488.3,669.3 488.7,669.0 489.1,668.9 489.5,668.7 490.0,668.5 490.4,668.2 490.8,668.2 491.2,668.1 491.7,668.6 492.1,669.2 492.5,669.8 492.9,670.2 493.4,669.9 493.8,669.8 494.2,669.8 494.6,669.7 495.1,669.5 495.5,669.9 495.9,670.6 496.3,670.4 496.8,670.2 497.2,669.3 497.6,668.6 498.0,669.0 498.5,669.2 498.9,669.0 499.3,668.9 499.7,669.6 500.2,669.7 500.6,669.2 501.0,668.9 501.4,668.2 501.9,668.2 502.3,668.5 502.7,668.3 503.1,668.3 503.6,669.4 504.0,670.2 504.4,689.9 504.8,690.8 505.3,690.6 505.7,687.3 506.1,682.8 506.5,679.8 507.0,680.2 507.4,682.5 507.8,685.3 508.2,687.9 508.7,689.4 509.1,690.1 509.5,690.9 509.9,691.5 510.4,692.5 510.8,695.9 511.2,699.6 511.6,702.2 512.1,701.9 512.5,701.1 512.9,700.4 513.3,699.5 513.8,698.9 514.2,697.3 514.6,695.6 515.0,694.4 515.5,693.9 515.9,694.0 516.3,694.2 516.7,694.5 517.2,695.2 517.6,695.9 518.0,696.3 518.4,696.8 518.9,697.0 519.3,696.0 519.7,695.0 520.1,694.0 520.6,693.4 521.0,693.0 521.4,692.3 521.8,692.2 522.3,692.3 522.7,691.8 523.1,691.7 523.5,692.1 524.0,692.4 524.4,693.1 524.8,693.6 525.2,693.5 525.7,693.2 526.1,692.5 526.5,691.9 526.9,691.6 527.4,690.9 527.8,690.4 528.2,689.9 528.6,689.4 529.1,689.2 529.5,688.6 529.9,688.0 530.3,687.3 530.8,686.5 531.2,686.0 531.6,685.6 532.0,685.6 532.5,685.5 532.9,685.1 533.3,684.7 533.7,684.2 534.2,684.1 534.6,684.9 535.0,686.0 535.4,686.5 535.9,686.4 536.3,685.8 536.7,685.1 537.1,684.9 537.6,684.7 538.0,684.3 538.4,684.5 538.8,685.3 539.3,685.4 539.7,685.0 540.1,684.4 540.5,683.7 541.0,684.0 541.4,684.6 541.8,685.1 542.2,685.5 542.7,686.0 543.1,686.2 543.5,685.9 543.9,685.9 544.4,685.8 544.8,685.6 545.2,685.4 545.6,684.8 546.1,684.1 546.5,684.0 546.9,684.3 547.3,684.5 547.8,685.1 548.2,686.3 548.6,687.6 549.0,687.6 549.5,687.2 549.9,687.0 550.3,686.5 550.8,685.7 551.2,685.6 551.6,686.0 552.0,685.9 552.5,685.6 552.9,685.8 553.3,685.9 553.7,686.0 554.2,686.0 554.6,684.7 555.0,683.8 555.4,684.1 555.9,684.1 556.3,683.7 556.7,682.9 557.1,681.9 557.6,681.3 558.0,681.1 558.4,680.7 558.8,680.0 559.3,679.9 559.7,680.2 560.1,680.5 560.5,681.1 561.0,681.5 561.4,681.6 561.8,681.5 562.2,681.5 562.7,681.7 563.1,681.8 563.5,682.2 563.9,682.3 564.4,681.9 564.8,681.6 565.2,680.7 565.6,680.4 566.1,680.5 566.5,680.5 566.9,680.6 567.3,681.1 567.8,681.3 568.2,681.5 568.6,681.2 569.0,680.1 569.5,679.4 569.9,679.6 570.3,679.6 570.7,679.8 571.2,680.0 571.6,680.2 572.0,680.9 572.4,681.6 572.9,682.2 573.3,682.7 573.7,682.9 574.1,683.1 574.6,683.3 575.0,683.2 575.4,682.9 575.8,682.4 576.3,681.8 576.7,681.8 577.1,682.3 577.5,682.7 578.0,683.0 578.4,683.4 578.8,683.6 579.2,683.5 579.7,683.2 580.1,682.5 580.5,681.8 580.9,681.6 581.4,681.4 581.8,680.5 582.2,680.2 582.6,680.3 583.1,680.5 583.5,680.9 583.9,680.6 584.3,680.1 584.8,679.4 585.2,678.7 585.6,678.3 586.0,677.6 586.5,677.3 586.9,677.2 587.3,678.2 587.7,679.1 588.2,678.7 588.6,678.5 589.0,678.3 589.4,677.7 589.9,677.4 590.3,677.8 590.7,678.5 591.1,678.9 591.6,679.0 592.0,678.8 592.4,678.7 592.8,679.2 593.3,679.6 593.7,679.9 594.1,680.5 594.5,681.3 595.0,682.0 595.4,682.1 595.8,681.7 596.2,680.9 596.7,680.5 597.1,680.3 597.5,680.5 597.9,680.9 598.4,681.0 598.8,681.0 599.2,680.8 599.6,680.6 600.1,680.2 600.5,679.5 600.9,678.1 601.3,677.0 601.8,677.0 602.2,677.0 602.6,676.6 603.0,676.5 603.5,676.4 603.9,676.8 604.3,677.5 604.7,677.8 605.2,678.2 605.6,679.0 606.0,679.7 606.4,679.7 606.9,679.7 607.3,679.8 607.7,680.2 608.1,681.1 608.6,681.4 609.0,681.2 609.4,681.0 609.8,680.7 610.3,680.4 610.7,679.8 611.1,679.5 611.5,679.2 612.0,678.8 612.4,678.7 612.8,678.8 613.2,678.8 613.7,678.8 614.1,678.4 614.5,677.2 614.9,676.9 615.4,677.0 615.8,677.6 616.2,678.7 616.6,678.8 617.1,678.2 617.5,678.4 617.9,678.7 618.3,679.2 618.8,679.7 619.2,679.1 619.6,678.6 620.0,678.4 620.5,678.4 620.9,679.1 621.3,679.3 621.7,678.9 622.2,678.4 622.6,678.1 623.0,677.6 623.4,677.7 623.9,678.3 624.3,679.0 624.7,679.2 625.2,679.0 625.6,678.7 626.0,678.8 626.4,679.4 626.9,680.0 627.3,680.2 627.7,680.1 628.1,680.2 628.6,680.3 629.0,680.2 629.4,680.4 629.8,680.2 630.3,680.4 630.7,680.8 631.1,680.2 631.5,680.1 632.0,681.2 632.4,682.1 632.8,682.4 633.2,682.4 633.7,681.7 634.1,681.5 634.5,682.0 634.9,681.7 635.4,681.0 635.8,681.1 636.2,681.3 636.6,680.5 637.1,679.5 637.5,679.6 637.9,679.8 638.3,679.3 638.8,678.8 639.2,678.8 639.6,678.5 640.0,677.9 640.5,678.1 640.9,678.6 641.3,678.9 641.7,679.4 642.2,679.1 642.6,678.5 643.0,678.4 643.4,678.1 643.9,677.8 644.3,677.6 644.7,678.1 645.1,678.5 645.6,677.9 646.0,677.8 646.4,678.4 646.8,678.5 647.3,678.4 647.7,678.0 648.1,677.6 648.5,677.0 649.0,676.5 649.4,677.3 649.8,678.1 650.2,678.6 650.7,678.8 651.1,678.0 651.5,677.0 651.9,676.3 652.4,675.1 652.8,674.0 653.2,673.8 653.6,673.8 654.1,674.5 654.5,675.6 654.9,675.7 655.3,675.3 655.8,675.8 656.2,676.2 656.6,675.4 657.0,674.7 657.5,675.0 657.9,675.4 658.3,675.5 658.7,676.2 659.2,676.6 659.6,677.1 660.0,677.8 660.4,677.1 660.9,675.8 661.3,675.3" stroke="#c4c4c4"/>
<polyline points="475.5,662.4 475.9,661.7 476.4,661.9 476.8,662.1 477.2,662.0 477.6,662.0 478.1,662.0 478.5,662.0 478.9,662.6 479.3,662.7 479.8,662.7 480.2,662.4 480.6,662.0 481.0,661.8 481.5,661.1 481.9,661.2 482.3,661.6 482.7,662.0 483.2,662.6 483.6,662.5 484.0,662.3 484.4,663.0 484.9,663.6 485.3,663.1 485.7,662.8 486.1,663.6 486.6,663.8 487.0,662.8 487.4,662.5 487.8,661.9 488.3,661.8 488.7,662.1 489.1,661.9 489.5,661.7 490.0,662.0 490.4,662.3 490.8,662.1 491.2,662.0 491.7,662.0 492.1,662.0 492.5,661.9 492.9,661.9 493.4,662.2 493.8,662.3 494.2,662.1 494.6,662.4 495.1,662.9 495.5,662.9 495.9,662.5 496.3,662.4 496.8,662.3 497.2,662.2 497.6,662.2 498.0,661.4 498.5,661.3 498.9,662.4 499.3,662.9 499.7,662.8 500.2,662.7 500.6,662.3 501.0,662.4 501.4,662.7 501.9,662.7 502.3,662.5 502.7,662.9 503.1,663.3 503.6,663.1 504.0,663.0 504.4,664.0 504.8,681.2 505.3,682.5 505.7,684.1 506.1,685.9 506.5,688.0 507.0,690.1 507.4,695.3 507.8,701.7 508.2,705.9 508.7,706.2 509.1,701.5 509.5,695.4 509.9,691.5 510.4,691.0 510.8,689.8 511.2,688.2 511.6,687.1 512.1,687.3 512.5,688.6 512.9,690.7 513.3,692.7 513.8,693.0 514.2,694.1 514.6,695.3 515.0,695.8 515.5,695.9 515.9,695.0 516.3,693.1 516.7,691.6 517.2,691.7 517.6,692.1 518.0,691.9 518.4,692.0 518.9,692.7 519.3,694.2 519.7,695.4 520.1,696.2 520.6,695.7 521.0,694.1 521.4,692.7 521.8,692.3 522.3,693.0 522.7,693.5 523.1,693.8 523.5,693.9 524.0,694.0 524.4,694.5 524.8,695.1 525.2,695.1 525.7,695.2 526.1,695.5 526.5,695.3 526.9,694.9 527.4,699.4 527.8,707.1 528.2,713.3 528.6,713.3 529.1,706.6 529.5,697.2 529.9,691.2 530.3,691.0 530.8,690.5 531.2,690.4 531.6,691.0 532.0,690.9 532.5,690.1 532.9,689.9 533.3,690.0 533.7,689.7 534.2,689.6 534.6,690.1 535.0,690.7 535.4,691.3 535.9,691.7 536.3,691.6 536.7,691.3 537.1,691.0 537.6,690.5 538.0,690.4 538.4,690.7 538.8,691.7 539.3,691.6 539.7,690.7 540.1,690.1 540.5,689.5 541.0,689.8 541.4,690.3 541.8,690.6 542.2,690.9 542.7,690.9 543.1,691.2 543.5,691.9 543.9,692.1 544.4,691.3 544.8,690.6 545.2,690.1 545.6,690.3 546.1,691.3 546.5,691.8 546.9,692.1 547.3,692.5 547.8,692.5 548.2,692.3 548.6,691.8 549.0,691.0 549.5,690.6 549.9,690.3 550.3,690.1 550.8,690.1 551.2,690.2 551.6,690.6 552.0,690.7 552.5,690.9 552.9,690.7 553.3,690.1 553.7,690.0 554.2,689.7 554.6,689.1 555.0,688.9 555.4,689.1 555.9,689.7 556.3,690.6 556.7,690.9 557.1,690.6 557.6,690.3 558.0,690.1 558.4,689.4 558.8,688.2 559.3,687.8 559.7,688.0 560.1,688.8 560.5,689.8 561.0,690.1 561.4,690.3 561.8,690.2 562.2,690.1 562.7,690.4 563.1,690.5 563.5,690.7 563.9,690.9 564.4,691.0 564.8,691.3 565.2,691.8 565.6,691.4 566.1,690.6 566.5,689.7 566.9,688.7 567.3,688.3 567.8,687.9 568.2,688.2 568.6,688.2 569.0,687.2 569.5,686.6 569.9,686.5 570.3,686.7 570.7,686.9 571.2,687.3 571.6,687.8 572.0,687.0 572.4,685.8 572.9,685.8 573.3,686.5 573.7,686.5 574.1,686.6 574.6,687.4 575.0,688.0 575.4,688.4 575.8,688.7 576.3,689.1 576.7,688.9 577.1,687.9 577.5,687.5 578.0,687.5 578.4,686.9 578.8,686.5 579.2,687.3 579.7,688.2 580.1,689.0 580.5,689.7 580.9,689.3 581.4,688.7 581.8,688.0 582.2,686.8 582.6,686.1 583.1,685.5 583.5,685.3 583.9,686.3 584.3,687.8 584.8,688.6 585.2,689.1 585.6,688.8 586.0,688.4 586.5,688.5 586.9,688.7 587.3,689.3 587.7,689.8 588.2,689.9 588.6,689.7 589.0,689.0 589.4,688.7 589.9,688.7 590.3,688.8 590.7,688.8 591.1,688.9 591.6,688.8 592.0,688.1 592.4,687.3 592.8,686.6 593.3,686.1 593.7,686.4 594.1,686.6 594.5,686.6 595.0,686.6 595.4,686.3 595.8,686.3 596.2,686.4 596.7,687.0 597.1,687.6 597.5,687.8 597.9,687.6 598.4,687.3 598.8,687.0 599.2,686.3 599.6,685.8 600.1,686.3 600.5,686.9 600.9,686.9 601.3,687.0 601.8,687.4 602.2,687.3 602.6,686.5 603.0,686.1 603.5,685.7 603.9,685.8 604.3,686.7 604.7,687.8 605.2,688.9 605.6,690.0 606.0,690.7 606.4,690.4 606.9,689.8 607.3,689.9 607.7,689.4 608.1,688.6 608.6,688.5 609.0,688.9 609.4,689.0 609.8,688.8 610.3,689.3 610.7,690.2 611.1,690.7 611.5,691.3 612.0,691.9 612.4,692.3 612.8,692.2 613.2,692.2 613.7,692.9 614.1,692.9 614.5,692.1 614.9,691.8 615.4,692.4 615.8,692.6 616.2,692.8 616.6,693.8 617.1,694.5 617.5,694.0 617.9,693.2 618.3,693.0 618.8,692.7 619.2,692.4 619.6,691.5 620.0,690.4 620.5,689.4 620.9,688.9 621.3,689.1 621.7,689.6 622.2,689.8 622.6,689.6 623.0,689.4 623.4,689.4 623.9,688.3 624.3,687.4 624.7,686.9 625.2,686.5 625.6,686.7 626.0,687.1 626.4,687.9 626.9,688.5 627.3,688.3 627.7,688.3 628.1,688.9 628.6,689.1 629.0,689.3 629.4,689.3 629.8,689.2 630.3,689.7 630.7,690.3 631.1,690.6 631.5,690.8 632.0,690.4 632.4,690.3 632.8,690.6 633.2,690.3 633.7,689.9 634.1,689.2 634.5,688.1 634.9,687.2 635.4,686.3 635.8,686.1 636.2,686.7 636.6,686.9 637.1,687.4 637.5,688.1 637.9,688.3 638.3,688.4 638.8,688.6 639.2,689.1 639.6,689.5 640.0,689.0 640.5,688.6 640.9,688.3 641.3,687.7 641.7,687.3 642.2,686.7 642.6,686.2 643.0,686.4 643.4,686.9 643.9,687.2 644.3,687.3 644.7,686.4 645.1,685.4 645.6,684.4 646.0,683.9 646.4,684.3 646.8,684.6 647.3,684.8 647.7,685.1 648.1,685.3 648.5,685.5 649.0,685.5 649.4,686.0 649.8,686.2 650.2,685.1 650.7,684.0 651.1,684.0 651.5,684.1 651.9,683.8 652.4,683.9 652.8,684.6 653.2,684.4 653.6,683.5 654.1,683.0 654.5,683.0 654.9,682.8 655.3,682.6 655.8,683.3 656.2,684.1 656.6,684.2 657.0,684.0 657.5,683.4 657.9,682.7 658.3,682.0 658.7,681.8 659.2,681.9 659.6,682.0 660.0,681.5 660.4,681.2 660.9,681.2 661.3,680.8" stroke="#7a7a7a"/>
<polyline points="475.5,660.8 475.9,661.8 476.4,661.6 476.8,660.9 477.2,660.9 477.6,660.9 478.1,660.9 478.5,661.0 478.9,661.1 479.3,661.2 479.8,661.1 480.2,661.2 480.6,661.5 481.0,661.7 481.5,662.4 481.9,662.7 482.3,662.8 482.7,663.0 483.2,663.1 483.6,662.8 484.0,662.3 484.4,661.4 484.9,660.7 485.3,661.3 485.7,661.6 486.1,661.9 486.6,661.8 487.0,661.2 487.4,661.0 487.8,660.5 488.3,660.6 488.7,661.1 489.1,660.9 489.5,660.6 490.0,661.1 490.4,661.6 490.8,661.6 491.2,661.6 491.7,660.9 492.1,660.9 492.5,662.2 492.9,663.0 493.4,663.0 493.8,662.9 494.2,662.7 494.6,662.7 495.1,662.9 495.5,662.9 495.9,663.1 496.3,663.1 496.8,663.2 497.2,662.2 497.6,661.5 498.0,661.7 498.5,661.5 498.9,660.8 499.3,660.3 499.7,660.6 500.2,660.6 500.6,660.1 501.0,660.2 501.4,660.5 501.9,660.9 502.3,661.3 502.7,661.7 503.1,662.0 503.6,662.3 504.0,662.6 504.4,663.1 504.8,663.6 505.3,687.2 505.7,681.8 506.1,674.1 506.5,668.9 507.0,668.6 507.4,668.8 507.8,661.1 508.2,653.1 508.7,653.1 509.1,659.4 509.5,677.3 509.9,690.4 510.4,691.7 510.8,681.1 511.2,665.1 511.6,661.0 512.1,665.1 512.5,682.2 512.9,695.7 513.3,695.6 513.8,695.4 514.2,695.1 514.6,693.7 515.0,692.0 515.5,691.8 515.9,691.8 516.3,691.6 516.7,691.2 517.2,690.3 517.6,680.1 518.0,664.7 518.4,658.4 518.9,658.4 519.3,669.6 519.7,680.7 520.1,680.5 520.6,680.0 521.0,681.1 521.4,682.7 521.8,684.2 522.3,685.2 522.7,685.9 523.1,686.6 523.5,686.7 524.0,686.5 524.4,685.7 524.8,685.1 525.2,685.1 525.7,685.3 526.1,685.4 526.5,685.3 526.9,684.9 527.4,684.8 527.8,684.7 528.2,684.3 528.6,684.0 529.1,683.7 529.5,683.6 529.9,683.4 530.3,682.9 530.8,682.4 531.2,681.5 531.6,680.7 532.0,680.2 532.5,679.9 532.9,679.8 533.3,679.7 533.7,680.0 534.2,680.6 534.6,680.7 535.0,680.8 535.4,680.5 535.9,680.3 536.3,680.5 536.7,680.8 537.1,681.2 537.6,681.4 538.0,681.4 538.4,681.3 538.8,680.9 539.3,681.4 539.7,682.4 540.1,682.7 540.5,682.6 541.0,681.8 541.4,680.7 541.8,680.3 542.2,680.0 542.7,679.3 543.1,679.4 543.5,680.1 543.9,680.6 544.4,680.9 544.8,680.7 545.2,680.5 545.6,680.4 546.1,680.8 546.5,680.6 546.9,680.3 547.3,679.9 547.8,679.4 548.2,678.6 548.6,677.9 549.0,678.5 549.5,679.0 549.9,678.4 550.3,678.1 550.8,677.9 551.2,677.8 551.6,678.2 552.0,678.8 552.5,679.5 552.9,679.6 553.3,679.6 553.7,680.1 554.2,680.9 554.6,681.8 555.0,682.6 555.4,682.6 555.9,682.4 556.3,682.0 556.7,681.8 557.1,682.2 557.6,682.2 558.0,681.5 558.4,681.1 558.8,680.8 559.3,680.2 559.7,679.8 560.1,679.1 560.5,678.4 561.0,678.8 561.4,679.0 561.8,678.4 562.2,678.1 562.7,678.5 563.1,678.7 563.5,678.9 563.9,678.8 564.4,678.1 564.8,677.9 565.2,678.2 565.6,678.0 566.1,677.8 566.5,677.6 566.9,677.0 567.3,676.8 567.8,676.5 568.2,676.8 568.6,676.9 569.0,676.5 569.5,676.3 569.9,675.6 570.3,675.6 570.7,675.9 571.2,675.6 571.6,675.4 572.0,675.5 572.4,675.9 572.9,676.7 573.3,677.4 573.7,677.7 574.1,677.8 574.6,678.1 575.0,677.9 575.4,676.7 575.8,675.8 576.3,675.2 576.7,675.3 577.1,676.9 577.5,678.2 578.0,679.1 578.4,680.0 578.8,680.4 579.2,679.9 579.7,679.2 580.1,679.2 580.5,679.3 580.9,679.7 581.4,680.0 581.8,680.2 582.2,680.5 582.6,680.8 583.1,680.9 583.5,680.8 583.9,680.5 584.3,679.7 584.8,679.4 585.2,679.1 585.6,678.7 586.0,678.3 586.5,678.0 586.9,677.7 587.3,676.9 587.7,676.1 588.2,675.3 588.6,674.4 589.0,674.5 589.4,674.6 589.9,674.9 590.3,675.5 590.7,676.0 591.1,676.4 591.6,676.5 592.0,676.7 592.4,676.8 592.8,676.1 593.3,675.6 593.7,675.8 594.1,676.1 594.5,676.9 595.0,677.3 595.4,677.3 595.8,676.8 596.2,675.8 596.7,675.5 597.1,675.6 597.5,675.5 597.9,675.4 598.4,674.9 598.8,674.6 599.2,675.5 599.6,676.6 600.1,676.2 600.5,675.5 600.9,674.8 601.3,674.0 601.8,673.8 602.2,673.8 602.6,674.3 603.0,674.9 603.5,675.7 603.9,675.8 604.3,675.5 604.7,675.8 605.2,676.1 605.6,676.5 606.0,676.8 606.4,676.6 606.9,676.3 607.3,676.6 607.7,676.8 608.1,676.7 608.6,676.7 609.0,676.4 609.4,677.0 609.8,678.1 610.3,678.1 610.7,677.4 611.1,677.2 611.5,676.9 612.0,675.9 612.4,675.5 612.8,675.9 613.2,676.7 613.7,678.1 614.1,678.5 614.5,677.5 614.9,677.0 615.4,677.3 615.8,677.4 616.2,677.5 616.6,677.6 617.1,677.6 617.5,677.8 617.9,678.2 618.3,678.3 618.8,678.4 619.2,679.2 619.6,679.4 620.0,678.8 620.5,678.5 620.9,678.9 621.3,679.1 621.7,679.3 622.2,679.4 622.6,679.3 623.0,679.0 623.4,678.5 623.9,678.4 624.3,678.2 624.7,677.2 625.2,676.2 625.6,676.0 626.0,675.8 626.4,675.5 626.9,675.6 627.3,676.4 627.7,676.5 628.1,676.2 628.6,676.0 629.0,675.6 629.4,675.5 629.8,675.0 630.3,675.2 630.7,676.0 631.1,676.2 631.5,676.7 632.0,677.2 632.4,677.5 632.8,677.3 633.2,677.1 633.7,676.9 634.1,676.9 634.5,677.0 634.9,676.7 635.4,676.0 635.8,675.9 636.2,676.0 636.6,676.5 637.1,677.2 637.5,677.6 637.9,678.0 638.3,678.1 638.8,677.9 639.2,677.3 639.6,676.9 640.0,676.8 640.5,676.6 640.9,676.4 641.3,677.1 641.7,678.3 642.2,679.1 642.6,679.4 643.0,679.1 643.4,678.6 643.9,678.2 644.3,678.0 644.7,678.7 645.1,679.2 645.6,678.8 646.0,678.9 646.4,679.6 646.8,679.8 647.3,679.8 647.7,679.7 648.1,679.5 648.5,679.8 649.0,680.4 649.4,680.1 649.8,679.5 650.2,680.1 650.7,680.6 651.1,680.5 651.5,680.2 651.9,679.1 652.4,678.4 652.8,678.1 653.2,678.2 653.6,678.5 654.1,678.6 654.5,678.9 654.9,678.6 655.3,678.2 655.8,678.8 656.2,679.4 656.6,678.7 657.0,678.2 657.5,678.6 657.9,678.9 658.3,678.2 658.7,678.0 659.2,678.2 659.6,678.4 660.0,678.6 660.4,678.5 660.9,678.3 661.3,678.0" stroke="#6a6a6a"/>
<polyline points="475.5,654.1 475.9,654.3 476.4,653.9 476.8,653.6 477.2,653.9 477.6,654.2 478.1,654.5 478.5,654.6 478.9,655.0 479.3,655.4 479.8,655.1 480.2,655.3 480.6,655.8 481.0,655.8 481.5,655.4 481.9,655.1 482.3,654.9 482.7,654.6 483.2,654.5 483.6,654.6 484.0,654.7 484.4,653.9 484.9,653.2 485.3,653.2 485.7,653.0 486.1,653.0 486.6,652.8 487.0,653.2 487.4,653.3 487.8,653.1 488.3,652.9 488.7,652.7 489.1,652.5 489.5,652.3 490.0,652.7 490.4,653.1 490.8,653.0 491.2,652.9 491.7,653.2 492.1,653.6 492.5,654.1 492.9,654.4 493.4,654.1 493.8,654.1 494.2,654.1 494.6,653.8 495.1,653.4 495.5,653.2 495.9,653.2 496.3,653.0 496.8,652.8 497.2,652.6 497.6,652.4 498.0,652.8 498.5,653.2 498.9,653.7 499.3,653.9 499.7,653.5 500.2,653.4 500.6,652.5 501.0,648.6 501.4,644.3 501.9,646.6 502.3,651.1 502.7,653.3 503.1,652.4 503.6,653.2 504.0,653.9 504.4,653.5 504.8,653.3 505.3,661.9 505.7,663.6 506.1,665.0 506.5,666.4 507.0,668.0 507.4,669.6 507.8,671.5 508.2,672.8 508.7,673.0 509.1,672.0 509.5,670.7 509.9,671.0 510.4,673.9 510.8,681.0 511.2,689.1 511.6,694.1 512.1,694.1 512.5,692.6 512.9,690.2 513.3,688.4 513.8,687.6 514.2,684.8 514.6,682.1 515.0,680.3 515.5,679.9 515.9,680.4 516.3,681.2 516.7,681.6 517.2,681.5 517.6,681.3 518.0,681.2 518.4,681.0 518.9,680.8 519.3,680.5 519.7,679.6 520.1,679.1 520.6,678.9 521.0,678.9 521.4,679.2 521.8,680.5 522.3,681.7 522.7,681.9 523.1,681.9 523.5,680.9 524.0,679.8 524.4,679.5 524.8,678.8 525.2,677.8 525.7,677.6 526.1,678.2 526.5,678.4 526.9,678.7 527.4,679.0 527.8,679.1 528.2,679.3 528.6,679.3 529.1,678.7 529.5,678.2 529.9,678.4 530.3,678.8 530.8,678.3 531.2,678.4 531.6,678.8 532.0,678.8 532.5,678.7 532.9,678.1 533.3,677.3 533.7,676.9 534.2,676.7 534.6,676.8 535.0,676.9 535.4,677.9 535.9,678.8 536.3,678.1 536.7,677.3 537.1,677.0 537.6,676.7 538.0,677.1 538.4,677.6 538.8,677.9 539.3,678.3 539.7,678.5 540.1,679.1 540.5,679.7 541.0,679.1 541.4,677.8 541.8,676.8 542.2,676.1 542.7,676.1 543.1,677.0 543.5,678.6 543.9,679.8 544.4,680.2 544.8,679.7 545.2,677.9 545.6,677.0 546.1,676.9 546.5,676.5 546.9,676.5 547.3,676.3 547.8,676.0 548.2,676.5 548.6,676.9 549.0,676.3 549.5,675.8 549.9,675.2 550.3,674.6 550.8,674.5 551.2,674.6 551.6,674.7 552.0,675.2 552.5,675.8 552.9,675.9 553.3,676.0 553.7,676.7 554.2,677.5 554.6,677.7 555.0,677.7 555.4,677.2 555.9,676.7 556.3,675.6 556.7,675.2 557.1,675.2 557.6,675.5 558.0,676.5 558.4,676.6 558.8,676.2 559.3,676.5 559.7,676.9 560.1,676.8 560.5,676.6 561.0,676.6 561.4,676.3 561.8,675.9 562.2,675.8 562.7,675.6 563.1,675.7 563.5,675.9 563.9,675.7 564.4,675.4 564.8,675.4 565.2,675.4 565.6,675.5 566.1,675.9 566.5,676.2 566.9,676.6 567.3,676.6 567.8,676.6 568.2,677.0 568.6,677.3 569.0,677.9 569.5,678.2 569.9,678.0 570.3,677.7 570.7,677.9 571.2,677.6 571.6,677.1 572.0,677.0 572.4,676.7 572.9,677.5 573.3,678.6 573.7,678.6 574.1,678.6 574.6,678.4 575.0,678.3 575.4,678.4 575.8,678.7 576.3,679.0 576.7,679.1 577.1,679.5 577.5,679.0 578.0,678.3 578.4,678.0 578.8,677.5 579.2,676.6 579.7,675.6 580.1,675.1 580.5,674.9 580.9,674.7 581.4,674.7 581.8,674.2 582.2,673.7 582.6,673.7 583.1,673.5 583.5,673.5 583.9,673.8 584.3,674.1 584.8,674.5 585.2,674.3 585.6,673.9 586.0,673.1 586.5,672.0 586.9,671.4 587.3,670.9 587.7,670.5 588.2,670.5 588.6,670.1 589.0,669.2 589.4,669.2 589.9,670.2 590.3,671.0 590.7,672.2 591.1,672.8 591.6,672.8 592.0,672.7 592.4,672.4 592.8,672.1 593.3,671.9 593.7,671.9 594.1,672.2 594.5,673.0 595.0,673.4 595.4,673.5 595.8,673.4 596.2,673.2 596.7,673.4 597.1,673.9 597.5,673.3 597.9,672.2 598.4,671.9 598.8,672.0 599.2,672.1 599.6,672.2 600.1,672.7 600.5,672.5 600.9,672.0 601.3,671.6 601.8,671.6 602.2,671.6 602.6,671.0 603.0,670.5 603.5,670.1 603.9,670.1 604.3,670.1 604.7,669.8 605.2,669.5 605.6,669.4 606.0,669.5 606.4,669.5 606.9,669.6 607.3,670.1 607.7,670.4 608.1,670.8 608.6,671.1 609.0,671.6 609.4,672.1 609.8,672.5 610.3,672.8 610.7,673.1 611.1,673.4 611.5,673.5 612.0,673.2 612.4,672.7 612.8,672.7 613.2,672.8 613.7,673.3 614.1,673.6 614.5,673.2 614.9,673.0 615.4,673.4 615.8,673.4 616.2,673.4 616.6,673.5 617.1,673.5 617.5,673.7 617.9,673.4 618.3,672.5 618.8,671.9 619.2,671.9 619.6,672.2 620.0,672.3 620.5,672.5 620.9,673.2 621.3,673.3 621.7,672.9 622.2,672.5 622.6,671.8 623.0,671.3 623.4,671.1 623.9,671.0 624.3,671.3 624.7,672.1 625.2,672.6 625.6,672.5 626.0,672.6 626.4,673.2 626.9,673.6 627.3,673.6 627.7,673.4 628.1,672.7 628.6,672.2 629.0,671.7 629.4,671.8 629.8,672.1 630.3,671.9 630.7,671.6 631.1,670.7 631.5,670.1 632.0,670.6 632.4,670.7 632.8,670.3 633.2,669.8 633.7,669.6 634.1,669.3 634.5,668.8 634.9,668.9 635.4,669.0 635.8,669.5 636.2,670.3 636.6,670.4 637.1,670.6 637.5,671.4 637.9,671.8 638.3,672.0 638.8,672.4 639.2,672.8 639.6,673.2 640.0,673.6 640.5,673.7 640.9,673.7 641.3,673.7 641.7,673.5 642.2,672.8 642.6,672.0 643.0,670.8 643.4,669.3 643.9,668.6 644.3,668.0 644.7,667.4 645.1,667.4 645.6,668.0 646.0,668.5 646.4,668.6 646.8,668.5 647.3,668.3 647.7,668.0 648.1,667.6 648.5,668.3 649.0,669.3 649.4,670.4 649.8,671.4 650.2,671.4 650.7,671.5 651.1,671.9 651.5,672.1 651.9,672.1 652.4,671.9 652.8,671.3 653.2,671.2 653.6,671.1 654.1,670.2 654.5,669.1 654.9,668.6 655.3,668.6 655.8,669.2 656.2,669.8 656.6,670.1 657.0,670.1 657.5,669.8 657.9,670.0 658.3,670.9 658.7,671.9 659.2,672.4 659.6,672.7 660.0,672.5 660.4,671.5 660.9,670.4 661.3,669.2" stroke="#555555"/>
<polyline points="475.5,676.4 475.9,675.7 476.4,675.3 476.8,675.2 477.2,675.7 477.6,676.3 478.1,676.5 478.5,676.7 478.9,676.8 479.3,676.8 479.8,676.9 480.2,676.9 480.6,676.5 481.0,676.2 481.5,675.8 481.9,675.9 482.3,676.6 482.7,676.5 483.2,676.4 483.6,676.4 484.0,676.5 484.4,676.7 484.9,676.9 485.3,677.2 485.7,677.4 486.1,677.5 486.6,677.6 487.0,678.2 487.4,678.3 487.8,677.9 488.3,677.6 488.7,676.9 489.1,677.0 489.5,677.3 490.0,676.9 490.4,676.6 490.8,676.9 491.2,677.1 491.7,676.5 492.1,676.1 492.5,676.3 492.9,676.2 493.4,675.4 493.8,675.2 494.2,675.1 494.6,675.5 495.1,676.6 495.5,676.4 495.9,675.9 496.3,676.6 496.8,677.5 497.2,676.9 497.6,676.5 498.0,677.6 498.5,678.4 498.9,678.8 499.3,679.0 499.7,678.1 500.2,678.0 500.6,678.2 501.0,678.4 501.4,678.9 501.9,678.5 502.3,677.9 502.7,677.6 503.1,677.4 503.6,678.1 504.0,678.7 504.4,683.4 504.8,685.8 505.3,687.2 505.7,691.5 506.1,696.6 506.5,703.2 507.0,708.0 507.4,709.7 507.8,708.5 508.2,697.3 508.7,688.8 509.1,692.5 509.5,697.1 509.9,701.4 510.4,703.4 510.8,705.1 511.2,706.4 511.6,706.9 512.1,706.2 512.5,703.2 512.9,700.2 513.3,702.0 513.8,709.2 514.2,712.8 514.6,712.8 515.0,709.2 515.5,705.7 515.9,705.4 516.3,704.8 516.7,695.6 517.2,684.3 517.6,684.3 518.0,688.9 518.4,697.3 518.9,699.2 519.3,698.0 519.7,696.3 520.1,694.9 520.6,694.4 521.0,694.8 521.4,695.5 521.8,694.3 522.3,685.6 522.7,681.1 523.1,681.1 523.5,690.5 524.0,697.4 524.4,697.2 524.8,697.1 525.2,696.5 525.7,696.3 526.1,696.5 526.5,696.3 526.9,695.8 527.4,695.7 527.8,695.6 528.2,695.7 528.6,695.8 529.1,694.9 529.5,694.1 529.9,693.8 530.3,693.8 530.8,694.2 531.2,694.6 531.6,695.0 532.0,694.9 532.5,694.3 532.9,694.2 533.3,694.4 533.7,694.2 534.2,694.0 534.6,694.5 535.0,695.0 535.4,695.1 535.9,694.9 536.3,694.9 536.7,694.9 537.1,695.6 537.6,696.0 538.0,696.1 538.4,696.4 538.8,696.8 539.3,696.6 539.7,695.6 540.1,695.1 540.5,695.0 541.0,695.6 541.4,696.6 541.8,697.0 542.2,697.2 542.7,697.3 543.1,696.8 543.5,696.3 543.9,695.6 544.4,694.7 544.8,694.5 545.2,694.8 545.6,694.8 546.1,694.7 546.5,694.6 546.9,694.5 547.3,694.3 547.8,694.2 548.2,693.7 548.6,693.4 549.0,693.7 549.5,693.6 549.9,692.4 550.3,691.6 550.8,691.3 551.2,691.2 551.6,691.5 552.0,691.9 552.5,692.6 552.9,692.8 553.3,693.1 553.7,693.0 554.2,692.6 554.6,692.4 555.0,691.7 555.4,691.4 555.9,691.0 556.3,690.4 556.7,690.6 557.1,691.5 557.6,691.8 558.0,690.9 558.4,690.1 558.8,689.2 559.3,689.0 559.7,689.7 560.1,690.0 560.5,690.4 561.0,690.8 561.4,690.9 561.8,691.3 562.2,691.6 562.7,691.3 563.1,691.4 563.5,691.7 563.9,691.5 564.4,691.3 564.8,690.8 565.2,690.4 565.6,690.2 566.1,690.0 566.5,690.1 566.9,689.9 567.3,689.2 567.8,688.6 568.2,687.6 568.6,687.1 569.0,687.4 569.5,687.5 569.9,687.7 570.3,688.1 570.7,688.4 571.2,688.6 571.6,688.8 572.0,688.3 572.4,687.7 572.9,687.2 573.3,687.1 573.7,687.0 574.1,687.1 574.6,687.5 575.0,687.6 575.4,687.6 575.8,687.6 576.3,687.7 576.7,687.5 577.1,686.8 577.5,686.6 578.0,686.7 578.4,686.2 578.8,685.5 579.2,685.6 579.7,685.9 580.1,686.7 580.5,687.3 580.9,687.0 581.4,686.7 581.8,686.2 582.2,686.3 582.6,686.9 583.1,687.1 583.5,686.9 583.9,686.4 584.3,685.4 584.8,685.4 585.2,685.5 585.6,685.2 586.0,684.8 586.5,684.2 586.9,684.0 587.3,684.1 587.7,684.7 588.2,686.0 588.6,686.8 589.0,687.2 589.4,687.1 589.9,686.5 590.3,686.0 590.7,685.6 591.1,685.3 591.6,685.1 592.0,684.6 592.4,684.0 592.8,683.5 593.3,683.0 593.7,682.6 594.1,682.6 594.5,683.7 595.0,684.1 595.4,683.8 595.8,683.4 596.2,683.2 596.7,682.9 597.1,682.7 597.5,683.4 597.9,684.3 598.4,684.6 598.8,684.6 599.2,684.2 599.6,683.9 600.1,683.9 600.5,683.9 600.9,684.1 601.3,684.2 601.8,684.4 602.2,684.4 602.6,684.0 603.0,684.4 603.5,685.1 603.9,685.0 604.3,684.4 604.7,684.1 605.2,683.9 605.6,684.0 606.0,684.2 606.4,683.5 606.9,683.0 607.3,683.0 607.7,682.7 608.1,682.4 608.6,682.3 609.0,682.6 609.4,683.0 609.8,683.6 610.3,684.3 610.7,685.0 611.1,684.8 611.5,684.6 612.0,684.9 612.4,685.4 612.8,685.6 613.2,686.1 613.7,687.0 614.1,687.6 614.5,687.9 614.9,688.1 615.4,687.7 615.8,687.9 616.2,688.4 616.6,688.2 617.1,687.9 617.5,688.4 617.9,688.9 618.3,689.4 618.8,689.8 619.2,689.7 619.6,689.7 620.0,689.9 620.5,690.0 620.9,690.3 621.3,690.2 621.7,689.6 622.2,689.3 622.6,689.4 623.0,688.9 623.4,688.5 623.9,688.0 624.3,687.5 624.7,687.9 625.2,688.0 625.6,687.6 626.0,687.2 626.4,686.6 626.9,686.4 627.3,686.9 627.7,686.8 628.1,685.9 628.6,685.5 629.0,685.3 629.4,685.4 629.8,685.4 630.3,686.1 630.7,686.9 631.1,686.5 631.5,686.3 632.0,687.4 632.4,688.2 632.8,688.5 633.2,688.7 633.7,688.5 634.1,688.2 634.5,688.0 634.9,688.3 635.4,688.8 635.8,688.9 636.2,688.9 636.6,688.3 637.1,687.6 637.5,687.8 637.9,687.9 638.3,687.5 638.8,687.5 639.2,687.7 639.6,687.9 640.0,688.0 640.5,687.7 640.9,687.1 641.3,686.7 641.7,686.1 642.2,685.3 642.6,684.5 643.0,684.6 643.4,685.0 643.9,684.6 644.3,684.3 644.7,684.6 645.1,684.8 645.6,684.7 646.0,684.7 646.4,684.5 646.8,684.6 647.3,685.1 647.7,685.4 648.1,685.7 648.5,686.2 649.0,686.4 649.4,687.1 649.8,687.4 650.2,686.5 650.7,685.5 651.1,684.7 651.5,684.6 651.9,685.0 652.4,685.5 652.8,686.6 653.2,686.9 653.6,686.8 654.1,686.9 654.5,686.9 654.9,686.6 655.3,686.4 655.8,687.2 656.2,688.1 656.6,688.8 657.0,688.9 657.5,688.8 657.9,688.4 658.3,688.3 658.7,688.1 659.2,687.3 659.6,687.1 660.0,687.1 660.4,687.2 660.9,687.5 661.3,687.3" stroke="#000000"/>
</g>
<g stroke="#6e6e6e" stroke-width="1.25" fill="none"><path d="M94.3 540.5L127.2 491.7H159.8M115 530H159.8M144.5 530V763.3M133 763.3H180.3M226 573L217.5 591.1V630.5"/></g>
<g font-family="Liberation Sans, sans-serif" fill="#666" font-size="14">
<text x="162.8" y="496">τ<tspan font-size="11.3" dx="1.3" dy="5">0</tspan></text>
<text x="162.8" y="534">τ<tspan font-size="11.3" dx="1.3" dy="5">P</tspan></text>
<text x="221.6" y="567.5">τ<tspan font-size="11.3" dx="1.3" dy="5">f</tspan></text>
<text x="185.2" y="768.5">τ<tspan font-size="11.3" dx="1.3" dy="4">min</tspan></text>
<text x="151.2" y="650" font-size="16.7">Δτ<tspan font-size="11.3" dx="1.3" dy="4">b</tspan></text>
</g>
<rect x="372" y="508" width="234" height="54" fill="#fff"/>
<text font-family="Liberation Sans, sans-serif" font-size="16.7" fill="#666" x="377.6" y="543.6">Sampling frequency = 10 MHz</text>
</svg></body></html>
